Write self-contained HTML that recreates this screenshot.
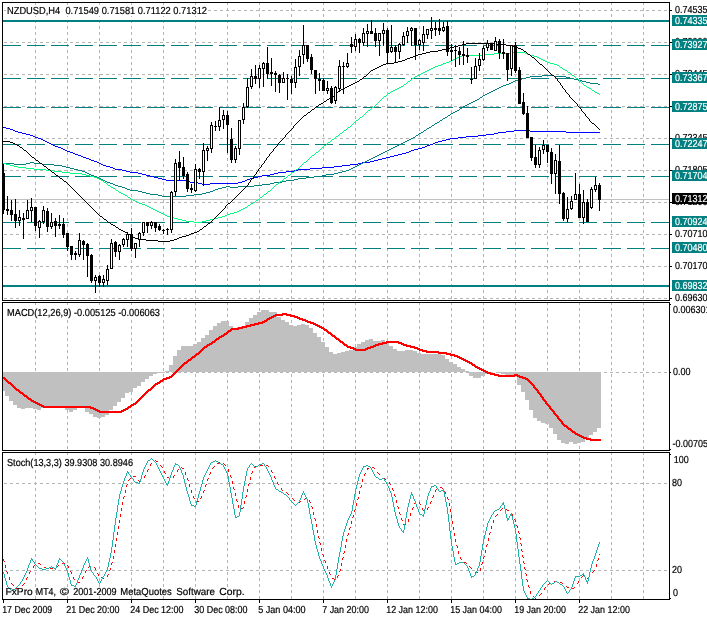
<!DOCTYPE html>
<html><head><meta charset="utf-8"><title>NZDUSD,H4</title>
<style>html,body{margin:0;padding:0;background:#fff;width:707px;height:617px;overflow:hidden}</style></head>
<body>
<svg width="707" height="617" viewBox="0 0 707 617" style="display:block;position:absolute;left:0;top:0" font-family="'Liberation Sans', sans-serif" font-size="10.2px" text-rendering="geometricPrecision">
<rect x="0" y="0" width="707" height="617" fill="#fff"/>
<g shape-rendering="crispEdges">
<line x1="35.5" y1="2" x2="35.5" y2="300" stroke="#b4b4b4" stroke-width="1" stroke-dasharray="3 3"/>
<line x1="35.5" y1="302" x2="35.5" y2="450" stroke="#b4b4b4" stroke-width="1" stroke-dasharray="3 3"/>
<line x1="35.5" y1="452" x2="35.5" y2="599" stroke="#b4b4b4" stroke-width="1" stroke-dasharray="3 3"/>
<line x1="67.5" y1="2" x2="67.5" y2="300" stroke="#b4b4b4" stroke-width="1" stroke-dasharray="3 3"/>
<line x1="67.5" y1="302" x2="67.5" y2="450" stroke="#b4b4b4" stroke-width="1" stroke-dasharray="3 3"/>
<line x1="67.5" y1="452" x2="67.5" y2="599" stroke="#b4b4b4" stroke-width="1" stroke-dasharray="3 3"/>
<line x1="99.5" y1="2" x2="99.5" y2="300" stroke="#b4b4b4" stroke-width="1" stroke-dasharray="3 3"/>
<line x1="99.5" y1="302" x2="99.5" y2="450" stroke="#b4b4b4" stroke-width="1" stroke-dasharray="3 3"/>
<line x1="99.5" y1="452" x2="99.5" y2="599" stroke="#b4b4b4" stroke-width="1" stroke-dasharray="3 3"/>
<line x1="131.5" y1="2" x2="131.5" y2="300" stroke="#b4b4b4" stroke-width="1" stroke-dasharray="3 3"/>
<line x1="131.5" y1="302" x2="131.5" y2="450" stroke="#b4b4b4" stroke-width="1" stroke-dasharray="3 3"/>
<line x1="131.5" y1="452" x2="131.5" y2="599" stroke="#b4b4b4" stroke-width="1" stroke-dasharray="3 3"/>
<line x1="163.5" y1="2" x2="163.5" y2="300" stroke="#b4b4b4" stroke-width="1" stroke-dasharray="3 3"/>
<line x1="163.5" y1="302" x2="163.5" y2="450" stroke="#b4b4b4" stroke-width="1" stroke-dasharray="3 3"/>
<line x1="163.5" y1="452" x2="163.5" y2="599" stroke="#b4b4b4" stroke-width="1" stroke-dasharray="3 3"/>
<line x1="195.5" y1="2" x2="195.5" y2="300" stroke="#b4b4b4" stroke-width="1" stroke-dasharray="3 3"/>
<line x1="195.5" y1="302" x2="195.5" y2="450" stroke="#b4b4b4" stroke-width="1" stroke-dasharray="3 3"/>
<line x1="195.5" y1="452" x2="195.5" y2="599" stroke="#b4b4b4" stroke-width="1" stroke-dasharray="3 3"/>
<line x1="227.5" y1="2" x2="227.5" y2="300" stroke="#b4b4b4" stroke-width="1" stroke-dasharray="3 3"/>
<line x1="227.5" y1="302" x2="227.5" y2="450" stroke="#b4b4b4" stroke-width="1" stroke-dasharray="3 3"/>
<line x1="227.5" y1="452" x2="227.5" y2="599" stroke="#b4b4b4" stroke-width="1" stroke-dasharray="3 3"/>
<line x1="259.5" y1="2" x2="259.5" y2="300" stroke="#b4b4b4" stroke-width="1" stroke-dasharray="3 3"/>
<line x1="259.5" y1="302" x2="259.5" y2="450" stroke="#b4b4b4" stroke-width="1" stroke-dasharray="3 3"/>
<line x1="259.5" y1="452" x2="259.5" y2="599" stroke="#b4b4b4" stroke-width="1" stroke-dasharray="3 3"/>
<line x1="291.5" y1="2" x2="291.5" y2="300" stroke="#b4b4b4" stroke-width="1" stroke-dasharray="3 3"/>
<line x1="291.5" y1="302" x2="291.5" y2="450" stroke="#b4b4b4" stroke-width="1" stroke-dasharray="3 3"/>
<line x1="291.5" y1="452" x2="291.5" y2="599" stroke="#b4b4b4" stroke-width="1" stroke-dasharray="3 3"/>
<line x1="323.5" y1="2" x2="323.5" y2="300" stroke="#b4b4b4" stroke-width="1" stroke-dasharray="3 3"/>
<line x1="323.5" y1="302" x2="323.5" y2="450" stroke="#b4b4b4" stroke-width="1" stroke-dasharray="3 3"/>
<line x1="323.5" y1="452" x2="323.5" y2="599" stroke="#b4b4b4" stroke-width="1" stroke-dasharray="3 3"/>
<line x1="355.5" y1="2" x2="355.5" y2="300" stroke="#b4b4b4" stroke-width="1" stroke-dasharray="3 3"/>
<line x1="355.5" y1="302" x2="355.5" y2="450" stroke="#b4b4b4" stroke-width="1" stroke-dasharray="3 3"/>
<line x1="355.5" y1="452" x2="355.5" y2="599" stroke="#b4b4b4" stroke-width="1" stroke-dasharray="3 3"/>
<line x1="387.5" y1="2" x2="387.5" y2="300" stroke="#b4b4b4" stroke-width="1" stroke-dasharray="3 3"/>
<line x1="387.5" y1="302" x2="387.5" y2="450" stroke="#b4b4b4" stroke-width="1" stroke-dasharray="3 3"/>
<line x1="387.5" y1="452" x2="387.5" y2="599" stroke="#b4b4b4" stroke-width="1" stroke-dasharray="3 3"/>
<line x1="419.5" y1="2" x2="419.5" y2="300" stroke="#b4b4b4" stroke-width="1" stroke-dasharray="3 3"/>
<line x1="419.5" y1="302" x2="419.5" y2="450" stroke="#b4b4b4" stroke-width="1" stroke-dasharray="3 3"/>
<line x1="419.5" y1="452" x2="419.5" y2="599" stroke="#b4b4b4" stroke-width="1" stroke-dasharray="3 3"/>
<line x1="451.5" y1="2" x2="451.5" y2="300" stroke="#b4b4b4" stroke-width="1" stroke-dasharray="3 3"/>
<line x1="451.5" y1="302" x2="451.5" y2="450" stroke="#b4b4b4" stroke-width="1" stroke-dasharray="3 3"/>
<line x1="451.5" y1="452" x2="451.5" y2="599" stroke="#b4b4b4" stroke-width="1" stroke-dasharray="3 3"/>
<line x1="483.5" y1="2" x2="483.5" y2="300" stroke="#b4b4b4" stroke-width="1" stroke-dasharray="3 3"/>
<line x1="483.5" y1="302" x2="483.5" y2="450" stroke="#b4b4b4" stroke-width="1" stroke-dasharray="3 3"/>
<line x1="483.5" y1="452" x2="483.5" y2="599" stroke="#b4b4b4" stroke-width="1" stroke-dasharray="3 3"/>
<line x1="515.5" y1="2" x2="515.5" y2="300" stroke="#b4b4b4" stroke-width="1" stroke-dasharray="3 3"/>
<line x1="515.5" y1="302" x2="515.5" y2="450" stroke="#b4b4b4" stroke-width="1" stroke-dasharray="3 3"/>
<line x1="515.5" y1="452" x2="515.5" y2="599" stroke="#b4b4b4" stroke-width="1" stroke-dasharray="3 3"/>
<line x1="547.5" y1="2" x2="547.5" y2="300" stroke="#b4b4b4" stroke-width="1" stroke-dasharray="3 3"/>
<line x1="547.5" y1="302" x2="547.5" y2="450" stroke="#b4b4b4" stroke-width="1" stroke-dasharray="3 3"/>
<line x1="547.5" y1="452" x2="547.5" y2="599" stroke="#b4b4b4" stroke-width="1" stroke-dasharray="3 3"/>
<line x1="579.5" y1="2" x2="579.5" y2="300" stroke="#b4b4b4" stroke-width="1" stroke-dasharray="3 3"/>
<line x1="579.5" y1="302" x2="579.5" y2="450" stroke="#b4b4b4" stroke-width="1" stroke-dasharray="3 3"/>
<line x1="579.5" y1="452" x2="579.5" y2="599" stroke="#b4b4b4" stroke-width="1" stroke-dasharray="3 3"/>
<line x1="611.5" y1="2" x2="611.5" y2="300" stroke="#b4b4b4" stroke-width="1" stroke-dasharray="3 3"/>
<line x1="611.5" y1="302" x2="611.5" y2="450" stroke="#b4b4b4" stroke-width="1" stroke-dasharray="3 3"/>
<line x1="611.5" y1="452" x2="611.5" y2="599" stroke="#b4b4b4" stroke-width="1" stroke-dasharray="3 3"/>
<line x1="643.5" y1="2" x2="643.5" y2="300" stroke="#b4b4b4" stroke-width="1" stroke-dasharray="3 3"/>
<line x1="643.5" y1="302" x2="643.5" y2="450" stroke="#b4b4b4" stroke-width="1" stroke-dasharray="3 3"/>
<line x1="643.5" y1="452" x2="643.5" y2="599" stroke="#b4b4b4" stroke-width="1" stroke-dasharray="3 3"/>
<line x1="4" y1="10.5" x2="669" y2="10.5" stroke="#b4b4b4" stroke-width="1" stroke-dasharray="3 3"/>
<line x1="4" y1="42.5" x2="669" y2="42.5" stroke="#b4b4b4" stroke-width="1" stroke-dasharray="3 3"/>
<line x1="4" y1="74.5" x2="669" y2="74.5" stroke="#b4b4b4" stroke-width="1" stroke-dasharray="3 3"/>
<line x1="4" y1="106.5" x2="669" y2="106.5" stroke="#b4b4b4" stroke-width="1" stroke-dasharray="3 3"/>
<line x1="4" y1="138.5" x2="669" y2="138.5" stroke="#b4b4b4" stroke-width="1" stroke-dasharray="3 3"/>
<line x1="4" y1="170.5" x2="669" y2="170.5" stroke="#b4b4b4" stroke-width="1" stroke-dasharray="3 3"/>
<line x1="4" y1="202.5" x2="669" y2="202.5" stroke="#b4b4b4" stroke-width="1" stroke-dasharray="3 3"/>
<line x1="4" y1="234.5" x2="669" y2="234.5" stroke="#b4b4b4" stroke-width="1" stroke-dasharray="3 3"/>
<line x1="4" y1="266.5" x2="669" y2="266.5" stroke="#b4b4b4" stroke-width="1" stroke-dasharray="3 3"/>
<line x1="4" y1="298.5" x2="669" y2="298.5" stroke="#b4b4b4" stroke-width="1" stroke-dasharray="3 3"/>
<line x1="4" y1="372.5" x2="669" y2="372.5" stroke="#b4b4b4" stroke-width="1" stroke-dasharray="3 3"/>
<line x1="4" y1="483.5" x2="669" y2="483.5" stroke="#b4b4b4" stroke-width="1" stroke-dasharray="3 3"/>
<line x1="4" y1="570.5" x2="669" y2="570.5" stroke="#b4b4b4" stroke-width="1" stroke-dasharray="3 3"/>
<line x1="3" y1="45.5" x2="669" y2="45.5" stroke="#008080" stroke-width="1" stroke-dasharray="18 6"/>
<line x1="3" y1="78.5" x2="669" y2="78.5" stroke="#008080" stroke-width="1" stroke-dasharray="18 6"/>
<line x1="3" y1="107.5" x2="669" y2="107.5" stroke="#008080" stroke-width="1" stroke-dasharray="18 6"/>
<line x1="3" y1="144.5" x2="669" y2="144.5" stroke="#008080" stroke-width="1" stroke-dasharray="18 6"/>
<line x1="3" y1="176.5" x2="669" y2="176.5" stroke="#008080" stroke-width="1" stroke-dasharray="18 6"/>
<line x1="3" y1="222.5" x2="669" y2="222.5" stroke="#008080" stroke-width="1" stroke-dasharray="18 6"/>
<line x1="3" y1="248.5" x2="669" y2="248.5" stroke="#008080" stroke-width="1" stroke-dasharray="18 6"/>
<line x1="3" y1="21.0" x2="669" y2="21.0" stroke="#008080" stroke-width="2"/>
<line x1="3" y1="286.0" x2="669" y2="286.0" stroke="#008080" stroke-width="2"/>
<line x1="3" y1="199.5" x2="669" y2="199.5" stroke="#c0c0c0" stroke-width="1"/>
<path d="M3 127h3v1h-3zM6 128h4v1h-4zM10 129h3v1h-3zM13 130h2v1h-2zM514 130h16v1h-16zM15 131h3v1h-3zM506 131h8v1h-8zM530 131h36v1h-36zM18 132h4v1h-4zM498 132h8v1h-8zM566 132h34v1h-34zM22 133h4v1h-4zM494 133h4v1h-4zM26 134h4v1h-4zM486 134h8v1h-8zM30 135h3v1h-3zM478 135h8v1h-8zM33 136h2v1h-2zM466 136h12v1h-12zM35 137h3v1h-3zM458 137h8v1h-8zM38 138h3v1h-3zM450 138h8v1h-8zM41 139h2v1h-2zM446 139h4v1h-4zM43 140h2v1h-2zM442 140h4v1h-4zM45 141h2v1h-2zM438 141h4v1h-4zM47 142h2v1h-2zM435 142h3v1h-3zM49 143h2v1h-2zM433 143h2v1h-2zM51 144h2v1h-2zM430 144h3v1h-3zM53 145h2v1h-2zM427 145h3v1h-3zM55 146h3v1h-3zM425 146h2v1h-2zM58 147h3v1h-3zM422 147h3v1h-3zM61 148h2v1h-2zM418 148h4v1h-4zM63 149h2v1h-2zM414 149h4v1h-4zM65 150h2v1h-2zM411 150h3v1h-3zM67 151h3v1h-3zM409 151h2v1h-2zM70 152h3v1h-3zM406 152h3v1h-3zM73 153h2v1h-2zM402 153h4v1h-4zM75 154h3v1h-3zM398 154h4v1h-4zM78 155h3v1h-3zM394 155h4v1h-4zM81 156h2v1h-2zM390 156h4v1h-4zM83 157h3v1h-3zM386 157h4v1h-4zM86 158h3v1h-3zM382 158h4v1h-4zM89 159h2v1h-2zM378 159h4v1h-4zM91 160h3v1h-3zM374 160h4v1h-4zM94 161h3v1h-3zM370 161h4v1h-4zM97 162h2v1h-2zM362 162h8v1h-8zM99 163h2v1h-2zM358 163h4v1h-4zM101 164h2v1h-2zM350 164h8v1h-8zM103 165h3v1h-3zM342 165h8v1h-8zM106 166h4v1h-4zM334 166h8v1h-8zM110 167h3v1h-3zM322 167h12v1h-12zM113 168h2v1h-2zM310 168h12v1h-12zM115 169h7v1h-7zM298 169h12v1h-12zM122 170h4v1h-4zM294 170h4v1h-4zM126 171h4v1h-4zM286 171h8v1h-8zM130 172h8v1h-8zM278 172h8v1h-8zM138 173h4v1h-4zM274 173h4v1h-4zM142 174h4v1h-4zM270 174h4v1h-4zM146 175h4v1h-4zM262 175h8v1h-8zM150 176h4v1h-4zM258 176h4v1h-4zM154 177h4v1h-4zM254 177h4v1h-4zM158 178h4v1h-4zM250 178h4v1h-4zM162 179h4v1h-4zM247 179h3v1h-3zM166 180h20v1h-20zM245 180h2v1h-2zM186 181h4v1h-4zM242 181h3v1h-3zM190 182h8v1h-8zM238 182h4v1h-4zM198 183h4v1h-4zM210 183h28v1h-28zM202 184h8v1h-8z" fill="#0000ff"/>
<path d="M542 75h12v1h-12zM530 76h12v1h-12zM554 76h12v1h-12zM526 77h4v1h-4zM566 77h4v1h-4zM522 78h4v1h-4zM570 78h4v1h-4zM518 79h4v1h-4zM574 79h4v1h-4zM515 80h3v1h-3zM578 80h4v1h-4zM513 81h2v1h-2zM582 81h4v1h-4zM511 82h2v1h-2zM586 82h4v1h-4zM509 83h2v1h-2zM590 83h8v1h-8zM506 84h3v1h-3zM598 84h2v1h-2zM503 85h3v1h-3zM501 86h2v1h-2zM499 87h2v1h-2zM497 88h2v1h-2zM495 89h2v1h-2zM493 90h2v1h-2zM491 91h2v1h-2zM489 92h2v1h-2zM487 93h2v1h-2zM485 94h2v1h-2zM483 95h2v1h-2zM482 96h1v1h-1zM480 97h2v1h-2zM479 98h1v1h-1zM477 99h2v1h-2zM475 100h2v1h-2zM473 101h2v1h-2zM471 102h2v1h-2zM469 103h2v1h-2zM467 104h2v1h-2zM465 105h2v1h-2zM463 106h2v1h-2zM462 107h1v1h-1zM460 108h2v1h-2zM459 109h1v1h-1zM457 110h2v1h-2zM455 111h2v1h-2zM453 112h2v1h-2zM451 113h2v1h-2zM450 114h1v1h-1zM448 115h2v1h-2zM447 116h1v1h-1zM445 117h2v1h-2zM443 118h2v1h-2zM442 119h1v1h-1zM440 120h2v1h-2zM439 121h1v1h-1zM437 122h2v1h-2zM435 123h2v1h-2zM434 124h1v1h-1zM432 125h2v1h-2zM431 126h1v1h-1zM429 127h2v1h-2zM427 128h2v1h-2zM426 129h1v1h-1zM424 130h2v1h-2zM423 131h1v1h-1zM421 132h2v1h-2zM419 133h2v1h-2zM418 134h1v1h-1zM416 135h2v1h-2zM415 136h1v1h-1zM413 137h2v1h-2zM411 138h2v1h-2zM409 139h2v1h-2zM407 140h2v1h-2zM405 141h2v1h-2zM403 142h2v1h-2zM401 143h2v1h-2zM399 144h2v1h-2zM397 145h2v1h-2zM395 146h2v1h-2zM393 147h2v1h-2zM391 148h2v1h-2zM389 149h2v1h-2zM387 150h2v1h-2zM385 151h2v1h-2zM383 152h2v1h-2zM381 153h2v1h-2zM379 154h2v1h-2zM377 155h2v1h-2zM375 156h2v1h-2zM373 157h2v1h-2zM371 158h2v1h-2zM369 159h2v1h-2zM367 160h2v1h-2zM365 161h2v1h-2zM30 162h4v1h-4zM363 162h2v1h-2zM3 163h11v1h-11zM26 163h4v1h-4zM34 163h8v1h-8zM361 163h2v1h-2zM14 164h12v1h-12zM42 164h12v1h-12zM359 164h2v1h-2zM54 165h8v1h-8zM357 165h2v1h-2zM62 166h4v1h-4zM355 166h2v1h-2zM66 167h4v1h-4zM353 167h2v1h-2zM70 168h4v1h-4zM351 168h2v1h-2zM74 169h4v1h-4zM349 169h2v1h-2zM78 170h4v1h-4zM346 170h3v1h-3zM82 171h3v1h-3zM342 171h4v1h-4zM85 172h2v1h-2zM338 172h4v1h-4zM87 173h2v1h-2zM334 173h4v1h-4zM89 174h2v1h-2zM326 174h8v1h-8zM91 175h3v1h-3zM322 175h4v1h-4zM94 176h3v1h-3zM314 176h8v1h-8zM97 177h2v1h-2zM306 177h8v1h-8zM99 178h2v1h-2zM298 178h8v1h-8zM101 179h2v1h-2zM294 179h4v1h-4zM103 180h2v1h-2zM286 180h8v1h-8zM105 181h2v1h-2zM282 181h4v1h-4zM107 182h3v1h-3zM274 182h8v1h-8zM110 183h3v1h-3zM270 183h4v1h-4zM113 184h2v1h-2zM262 184h8v1h-8zM115 185h3v1h-3zM254 185h8v1h-8zM118 186h4v1h-4zM226 186h4v1h-4zM238 186h16v1h-16zM122 187h3v1h-3zM222 187h4v1h-4zM230 187h8v1h-8zM125 188h2v1h-2zM218 188h4v1h-4zM127 189h3v1h-3zM215 189h3v1h-3zM130 190h8v1h-8zM213 190h2v1h-2zM138 191h4v1h-4zM210 191h3v1h-3zM142 192h4v1h-4zM206 192h4v1h-4zM146 193h4v1h-4zM202 193h4v1h-4zM150 194h8v1h-8zM194 194h8v1h-8zM158 195h4v1h-4zM186 195h8v1h-8zM162 196h24v1h-24z" fill="#008080"/>
<path d="M510 52h15v1h-15zM494 53h16v1h-16zM525 53h2v1h-2zM482 54h12v1h-12zM527 54h3v1h-3zM462 55h20v1h-20zM530 55h4v1h-4zM459 56h3v1h-3zM534 56h3v1h-3zM457 57h2v1h-2zM537 57h2v1h-2zM455 58h2v1h-2zM539 58h2v1h-2zM453 59h2v1h-2zM541 59h2v1h-2zM451 60h2v1h-2zM543 60h2v1h-2zM449 61h2v1h-2zM545 61h2v1h-2zM446 62h3v1h-3zM547 62h3v1h-3zM443 63h3v1h-3zM550 63h4v1h-4zM441 64h2v1h-2zM554 64h3v1h-3zM438 65h3v1h-3zM557 65h2v1h-2zM435 66h3v1h-3zM559 66h1v1h-1zM433 67h2v1h-2zM560 67h2v1h-2zM431 68h2v1h-2zM562 68h1v1h-1zM429 69h2v1h-2zM563 69h2v1h-2zM427 70h2v1h-2zM565 70h2v1h-2zM425 71h2v1h-2zM567 71h1v1h-1zM423 72h2v1h-2zM568 72h2v1h-2zM421 73h2v1h-2zM570 73h1v1h-1zM419 74h2v1h-2zM571 74h1v1h-1zM417 75h2v1h-2zM572 75h2v1h-2zM415 76h2v1h-2zM574 76h1v1h-1zM414 77h1v1h-1zM575 77h1v1h-1zM412 78h2v1h-2zM576 78h2v1h-2zM411 79h1v1h-1zM578 79h1v1h-1zM410 80h1v1h-1zM579 80h1v1h-1zM408 81h2v1h-2zM580 81h1v1h-1zM407 82h1v1h-1zM581 82h1v1h-1zM406 83h1v1h-1zM582 83h1v1h-1zM404 84h2v1h-2zM583 84h1v1h-1zM403 85h1v1h-1zM584 85h2v1h-2zM401 86h2v1h-2zM586 86h1v1h-1zM399 87h2v1h-2zM587 87h2v1h-2zM397 88h2v1h-2zM589 88h2v1h-2zM395 89h2v1h-2zM591 89h1v1h-1zM393 90h2v1h-2zM592 90h2v1h-2zM391 91h2v1h-2zM594 91h1v1h-1zM390 92h1v1h-1zM595 92h2v1h-2zM388 93h2v1h-2zM597 93h2v1h-2zM387 94h1v1h-1zM599 94h1v1h-1zM386 95h1v1h-1zM384 96h2v1h-2zM383 97h1v1h-1zM382 98h1v1h-1zM381 99h1v1h-1zM380 100h1v1h-1zM379 101h1v1h-1zM378 102h1v1h-1zM377 103h1v1h-1zM376 104h1v1h-1zM375 105h1v1h-1zM374 106h1v1h-1zM372 107h2v1h-2zM371 108h1v1h-1zM370 109h1v1h-1zM368 110h2v1h-2zM367 111h1v1h-1zM366 112h1v1h-1zM365 113h1v1h-1zM364 114h1v1h-1zM363 115h1v1h-1zM362 116h1v1h-1zM360 117h2v1h-2zM359 118h1v1h-1zM358 119h1v1h-1zM356 120h2v1h-2zM355 121h1v1h-1zM354 122h1v1h-1zM353 123h1v1h-1zM352 124h1v1h-1zM351 125h1v1h-1zM350 126h1v1h-1zM348 127h2v1h-2zM347 128h1v1h-1zM346 129h1v1h-1zM344 130h2v1h-2zM343 131h1v1h-1zM342 132h1v1h-1zM340 133h2v1h-2zM339 134h1v1h-1zM338 135h1v1h-1zM336 136h2v1h-2zM335 137h1v1h-1zM334 138h1v1h-1zM332 139h2v1h-2zM331 140h1v1h-1zM330 141h1v1h-1zM328 142h2v1h-2zM327 143h1v1h-1zM326 144h1v1h-1zM324 145h2v1h-2zM323 146h1v1h-1zM322 147h1v1h-1zM321 148h1v1h-1zM320 149h1v1h-1zM319 150h1v1h-1zM318 151h1v1h-1zM316 152h2v1h-2zM315 153h1v1h-1zM314 154h1v1h-1zM312 155h2v1h-2zM311 156h1v1h-1zM310 157h1v1h-1zM309 158h1v1h-1zM308 159h1v1h-1zM307 160h1v1h-1zM306 161h1v1h-1zM304 162h2v1h-2zM3 163h3v1h-3zM303 163h1v1h-1zM6 164h4v1h-4zM302 164h1v1h-1zM10 165h4v1h-4zM301 165h1v1h-1zM14 166h4v1h-4zM300 166h1v1h-1zM18 167h8v1h-8zM299 167h1v1h-1zM26 168h8v1h-8zM298 168h1v1h-1zM34 169h12v1h-12zM296 169h2v1h-2zM46 170h8v1h-8zM295 170h1v1h-1zM54 171h8v1h-8zM294 171h1v1h-1zM62 172h8v1h-8zM292 172h2v1h-2zM70 173h12v1h-12zM291 173h1v1h-1zM82 174h4v1h-4zM290 174h1v1h-1zM86 175h4v1h-4zM288 175h2v1h-2zM90 176h4v1h-4zM287 176h1v1h-1zM94 177h3v1h-3zM286 177h1v1h-1zM97 178h2v1h-2zM284 178h2v1h-2zM99 179h2v1h-2zM283 179h1v1h-1zM101 180h2v1h-2zM282 180h1v1h-1zM103 181h1v1h-1zM280 181h2v1h-2zM104 182h2v1h-2zM279 182h1v1h-1zM106 183h1v1h-1zM278 183h1v1h-1zM107 184h1v1h-1zM276 184h2v1h-2zM108 185h2v1h-2zM275 185h1v1h-1zM110 186h1v1h-1zM274 186h1v1h-1zM111 187h2v1h-2zM273 187h1v1h-1zM113 188h2v1h-2zM272 188h1v1h-1zM115 189h1v1h-1zM271 189h1v1h-1zM116 190h2v1h-2zM270 190h1v1h-1zM118 191h1v1h-1zM268 191h2v1h-2zM119 192h2v1h-2zM267 192h1v1h-1zM121 193h2v1h-2zM266 193h1v1h-1zM123 194h2v1h-2zM264 194h2v1h-2zM125 195h2v1h-2zM263 195h1v1h-1zM127 196h1v1h-1zM262 196h1v1h-1zM128 197h2v1h-2zM260 197h2v1h-2zM130 198h1v1h-1zM259 198h1v1h-1zM131 199h2v1h-2zM258 199h1v1h-1zM133 200h2v1h-2zM256 200h2v1h-2zM135 201h2v1h-2zM255 201h1v1h-1zM137 202h2v1h-2zM253 202h2v1h-2zM139 203h3v1h-3zM251 203h2v1h-2zM142 204h3v1h-3zM250 204h1v1h-1zM145 205h2v1h-2zM248 205h2v1h-2zM147 206h2v1h-2zM247 206h1v1h-1zM149 207h2v1h-2zM245 207h2v1h-2zM151 208h2v1h-2zM243 208h2v1h-2zM153 209h2v1h-2zM241 209h2v1h-2zM155 210h2v1h-2zM239 210h2v1h-2zM157 211h2v1h-2zM237 211h2v1h-2zM159 212h2v1h-2zM234 212h3v1h-3zM161 213h2v1h-2zM230 213h4v1h-4zM163 214h2v1h-2zM227 214h3v1h-3zM165 215h2v1h-2zM225 215h2v1h-2zM167 216h3v1h-3zM222 216h3v1h-3zM170 217h4v1h-4zM218 217h4v1h-4zM174 218h4v1h-4zM214 218h4v1h-4zM178 219h4v1h-4zM210 219h4v1h-4zM182 220h4v1h-4zM206 220h4v1h-4zM186 221h8v1h-8zM202 221h4v1h-4zM194 222h8v1h-8z" fill="#00ff7f"/>
<path d="M466 43h28v1h-28zM462 44h4v1h-4zM494 44h12v1h-12zM458 45h4v1h-4zM506 45h4v1h-4zM454 46h4v1h-4zM510 46h4v1h-4zM450 47h4v1h-4zM514 47h4v1h-4zM446 48h4v1h-4zM518 48h3v1h-3zM442 49h4v1h-4zM521 49h2v1h-2zM438 50h4v1h-4zM523 50h1v1h-1zM430 51h8v1h-8zM524 51h2v1h-2zM426 52h4v1h-4zM526 52h1v1h-1zM422 53h4v1h-4zM527 53h1v1h-1zM418 54h4v1h-4zM528 54h2v1h-2zM415 55h3v1h-3zM530 55h1v1h-1zM413 56h2v1h-2zM531 56h1v1h-1zM410 57h3v1h-3zM532 57h2v1h-2zM407 58h3v1h-3zM534 58h1v1h-1zM405 59h2v1h-2zM535 59h1v1h-1zM402 60h3v1h-3zM536 60h1v1h-1zM398 61h4v1h-4zM537 61h1v1h-1zM394 62h4v1h-4zM538 62h1v1h-1zM386 63h8v1h-8zM539 63h1v1h-1zM383 64h3v1h-3zM540 64h2v1h-2zM381 65h2v1h-2zM542 65h1v1h-1zM379 66h2v1h-2zM543 66h1v1h-1zM377 67h2v1h-2zM544 67h1v1h-1zM375 68h2v1h-2zM545 68h1v1h-1zM373 69h2v1h-2zM546 69h1v1h-1zM371 70h2v1h-2zM547 70h1v1h-1zM370 71h1v1h-1zM548 71h1v1h-1zM369 72h1v1h-1zM549 72h1v1h-1zM368 73h1v1h-1zM550 73h1v1h-1zM367 74h1v1h-1zM551 74h1v1h-1zM366 75h1v1h-1zM552 75h2v1h-2zM364 76h2v1h-2zM554 76h1v1h-1zM363 77h1v1h-1zM555 77h1v1h-1zM362 78h1v1h-1zM556 78h1v1h-1zM360 79h2v1h-2zM557 79h1v2h-1zM359 80h1v1h-1zM357 81h2v1h-2zM558 81h1v1h-1zM355 82h2v1h-2zM559 82h1v1h-1zM353 83h2v1h-2zM560 83h1v2h-1zM351 84h2v1h-2zM349 85h2v1h-2zM561 85h1v1h-1zM347 86h2v1h-2zM562 86h1v2h-1zM345 87h2v1h-2zM343 88h2v1h-2zM563 88h1v1h-1zM341 89h2v1h-2zM564 89h1v1h-1zM339 90h2v1h-2zM565 90h1v2h-1zM338 91h1v1h-1zM337 92h1v1h-1zM566 92h1v1h-1zM336 93h1v1h-1zM567 93h1v1h-1zM335 94h1v1h-1zM568 94h1v1h-1zM334 95h1v1h-1zM569 95h1v2h-1zM332 96h2v1h-2zM331 97h1v1h-1zM570 97h1v1h-1zM329 98h2v1h-2zM571 98h1v1h-1zM327 99h2v1h-2zM572 99h1v1h-1zM326 100h1v1h-1zM573 100h1v1h-1zM324 101h2v1h-2zM574 101h1v1h-1zM323 102h1v1h-1zM575 102h1v1h-1zM321 103h2v1h-2zM576 103h1v1h-1zM319 104h2v1h-2zM577 104h1v2h-1zM318 105h1v1h-1zM316 106h2v1h-2zM578 106h1v1h-1zM315 107h1v1h-1zM579 107h1v1h-1zM314 108h1v1h-1zM580 108h1v1h-1zM312 109h2v1h-2zM581 109h1v2h-1zM311 110h1v1h-1zM310 111h1v1h-1zM582 111h1v1h-1zM308 112h2v1h-2zM583 112h1v1h-1zM307 113h1v1h-1zM584 113h1v1h-1zM306 114h1v1h-1zM585 114h1v2h-1zM304 115h2v1h-2zM303 116h1v1h-1zM586 116h1v1h-1zM302 117h1v1h-1zM587 117h1v1h-1zM301 118h1v1h-1zM588 118h1v1h-1zM300 119h1v1h-1zM589 119h1v2h-1zM299 120h1v1h-1zM298 121h1v1h-1zM590 121h1v1h-1zM297 122h1v1h-1zM591 122h1v1h-1zM296 123h1v1h-1zM592 123h2v1h-2zM295 124h1v1h-1zM594 124h1v1h-1zM294 125h1v1h-1zM595 125h1v1h-1zM596 126h1v1h-1zM293 126h1v2h-1zM597 127h1v1h-1zM292 128h1v1h-1zM598 128h1v1h-1zM291 129h1v1h-1zM599 129h1v1h-1zM290 130h1v1h-1zM289 131h1v1h-1zM288 132h1v1h-1zM287 133h1v1h-1zM286 134h1v1h-1zM285 135h1v2h-1zM284 137h1v1h-1zM283 138h1v1h-1zM282 139h1v1h-1zM281 140h1v1h-1zM3 141h7v1h-7zM280 141h1v1h-1zM10 142h3v1h-3zM279 142h1v1h-1zM13 143h2v1h-2zM278 143h1v1h-1zM15 144h2v1h-2zM277 144h1v2h-1zM17 145h2v1h-2zM19 146h1v1h-1zM276 146h1v1h-1zM20 147h2v1h-2zM275 147h1v1h-1zM22 148h1v1h-1zM274 148h1v1h-1zM23 149h1v1h-1zM273 149h1v2h-1zM24 150h2v1h-2zM26 151h1v1h-1zM272 151h1v1h-1zM27 152h1v1h-1zM271 152h1v1h-1zM28 153h1v1h-1zM270 153h1v1h-1zM29 154h1v1h-1zM269 154h1v2h-1zM30 155h1v1h-1zM31 156h1v1h-1zM268 156h1v1h-1zM32 157h2v1h-2zM267 157h1v1h-1zM34 158h1v1h-1zM266 158h1v2h-1zM35 159h1v1h-1zM36 160h2v1h-2zM265 160h1v1h-1zM38 161h1v1h-1zM264 161h1v2h-1zM39 162h1v1h-1zM40 163h2v1h-2zM263 163h1v1h-1zM42 164h1v1h-1zM262 164h1v1h-1zM43 165h1v1h-1zM261 165h1v2h-1zM44 166h2v1h-2zM46 167h1v1h-1zM260 167h1v1h-1zM47 168h1v1h-1zM259 168h1v1h-1zM48 169h2v1h-2zM258 169h1v2h-1zM50 170h1v1h-1zM51 171h1v1h-1zM257 171h1v1h-1zM52 172h2v1h-2zM256 172h1v2h-1zM54 173h1v1h-1zM55 174h1v1h-1zM255 174h1v1h-1zM56 175h2v1h-2zM254 175h1v1h-1zM58 176h1v1h-1zM253 176h1v2h-1zM59 177h1v1h-1zM60 178h2v1h-2zM252 178h1v1h-1zM62 179h1v1h-1zM251 179h1v1h-1zM63 180h1v1h-1zM250 180h1v2h-1zM64 181h2v1h-2zM66 182h1v1h-1zM249 182h1v1h-1zM67 183h1v1h-1zM248 183h1v2h-1zM68 184h1v1h-1zM69 185h1v1h-1zM247 185h1v1h-1zM70 186h1v1h-1zM246 186h1v1h-1zM71 187h1v1h-1zM245 187h1v1h-1zM72 188h1v1h-1zM244 188h1v1h-1zM73 189h1v1h-1zM243 189h1v1h-1zM74 190h1v1h-1zM242 190h1v1h-1zM75 191h1v1h-1zM241 191h1v1h-1zM76 192h1v1h-1zM240 192h1v1h-1zM77 193h1v1h-1zM239 193h1v1h-1zM78 194h1v1h-1zM238 194h1v1h-1zM79 195h1v1h-1zM237 195h1v1h-1zM80 196h1v1h-1zM236 196h1v1h-1zM81 197h1v1h-1zM235 197h1v1h-1zM82 198h1v1h-1zM234 198h1v1h-1zM83 199h1v1h-1zM233 199h1v1h-1zM84 200h1v1h-1zM232 200h1v1h-1zM85 201h1v1h-1zM231 201h1v1h-1zM86 202h1v1h-1zM230 202h1v1h-1zM87 203h1v1h-1zM228 203h2v1h-2zM88 204h1v1h-1zM227 204h1v1h-1zM89 205h1v1h-1zM226 205h1v1h-1zM90 206h1v1h-1zM225 206h1v2h-1zM91 207h1v1h-1zM92 208h1v1h-1zM224 208h1v1h-1zM93 209h1v1h-1zM223 209h1v1h-1zM94 210h1v1h-1zM222 210h1v1h-1zM95 211h1v1h-1zM221 211h1v1h-1zM96 212h1v1h-1zM220 212h1v1h-1zM97 213h1v1h-1zM219 213h1v1h-1zM98 214h1v1h-1zM218 214h1v1h-1zM99 215h1v1h-1zM217 215h1v1h-1zM100 216h2v1h-2zM216 216h1v1h-1zM102 217h1v1h-1zM215 217h1v1h-1zM103 218h1v1h-1zM214 218h1v1h-1zM104 219h2v1h-2zM213 219h1v1h-1zM106 220h1v1h-1zM212 220h1v1h-1zM107 221h1v1h-1zM211 221h1v1h-1zM108 222h2v1h-2zM210 222h1v1h-1zM110 223h1v1h-1zM208 223h2v1h-2zM111 224h2v1h-2zM207 224h1v1h-1zM113 225h2v1h-2zM206 225h1v1h-1zM115 226h1v1h-1zM204 226h2v1h-2zM116 227h2v1h-2zM203 227h1v1h-1zM118 228h1v1h-1zM202 228h1v1h-1zM119 229h2v1h-2zM200 229h2v1h-2zM121 230h2v1h-2zM199 230h1v1h-1zM123 231h2v1h-2zM197 231h2v1h-2zM125 232h2v1h-2zM194 232h3v1h-3zM127 233h1v1h-1zM191 233h3v1h-3zM128 234h2v1h-2zM189 234h2v1h-2zM130 235h1v1h-1zM186 235h3v1h-3zM131 236h2v1h-2zM182 236h4v1h-4zM133 237h2v1h-2zM179 237h3v1h-3zM135 238h3v1h-3zM177 238h2v1h-2zM138 239h8v1h-8zM174 239h3v1h-3zM146 240h12v1h-12zM170 240h4v1h-4zM158 241h12v1h-12z" fill="#000"/>
<path d="M3 164h1v50h-1zM2 173h3v37h-3zM7 196h1v19h-1zM6 209h3v2h-3zM11 200h1v21h-1zM10 210h3v5h-3zM15 199h1v29h-1zM14 214h3v7h-3zM19 210h1v16h-1zM18 217h3v4h-3zM23 213h1v26h-1zM22 218h3v2h-3zM27 200h1v19h-1zM26 210h3v9h-3zM31 198h1v24h-1zM30 207h3v4h-3zM35 207h1v24h-1zM34 207h3v19h-3zM39 220h1v18h-1zM38 221h3v7h-3zM43 206h1v18h-1zM42 210h3v12h-3zM47 208h1v24h-1zM46 211h3v16h-3zM51 213h1v16h-1zM50 222h3v5h-3zM55 218h1v19h-1zM54 221h3v5h-3zM59 215h1v14h-1zM58 224h3v2h-3zM63 218h1v20h-1zM62 224h3v11h-3zM67 233h1v18h-1zM66 233h3v14h-3zM71 246h1v14h-1zM70 246h3v9h-3zM75 251h1v9h-1zM74 253h3v2h-3zM79 233h1v24h-1zM78 240h3v15h-3zM83 240h1v20h-1zM82 241h3v4h-3zM87 243h1v34h-1zM86 244h3v12h-3zM91 254h1v29h-1zM90 255h3v26h-3zM95 275h1v18h-1zM94 277h3v4h-3zM99 275h1v12h-1zM98 276h3v7h-3zM103 275h1v12h-1zM102 279h3v4h-3zM107 265h1v20h-1zM106 269h3v12h-3zM111 239h1v30h-1zM110 243h3v26h-3zM115 241h1v16h-1zM114 242h3v10h-3zM119 244h1v16h-1zM118 245h3v7h-3zM123 238h1v9h-1zM122 239h3v6h-3zM127 232h1v15h-1zM126 234h3v6h-3zM131 228h1v23h-1zM130 234h3v15h-3zM135 243h1v15h-1zM134 243h3v6h-3zM139 232h1v15h-1zM138 233h3v7h-3zM143 222h1v14h-1zM142 222h3v11h-3zM147 222h1v11h-1zM146 222h3v4h-3zM151 221h1v8h-1zM150 222h3v4h-3zM155 222h1v10h-1zM154 222h3v6h-3zM159 224h1v7h-1zM158 226h3v4h-3zM163 229h1v5h-1zM162 230h3v1h-3zM167 228h1v7h-1zM166 229h3v1h-3zM171 191h1v42h-1zM170 192h3v38h-3zM175 159h1v37h-1zM174 163h3v29h-3zM179 151h1v29h-1zM178 162h3v6h-3zM183 157h1v22h-1zM182 167h3v9h-3zM187 172h1v20h-1zM186 174h3v15h-3zM191 184h1v9h-1zM190 188h3v2h-3zM195 164h1v28h-1zM194 169h3v22h-3zM199 168h1v11h-1zM198 169h3v3h-3zM203 143h1v43h-1zM202 150h3v22h-3zM207 146h1v15h-1zM206 148h3v3h-3zM211 122h1v31h-1zM210 125h3v24h-3zM215 121h1v10h-1zM214 126h3v1h-3zM219 107h1v24h-1zM218 120h3v7h-3zM223 110h1v19h-1zM222 115h3v5h-3zM227 111h1v42h-1zM226 115h3v10h-3zM231 128h1v35h-1zM230 139h3v21h-3zM235 146h1v17h-1zM234 148h3v12h-3zM239 120h1v35h-1zM238 120h3v29h-3zM243 103h1v21h-1zM242 107h3v13h-3zM247 78h1v30h-1zM246 87h3v20h-3zM251 69h1v20h-1zM250 76h3v11h-3zM255 65h1v19h-1zM254 76h3v3h-3zM259 65h1v23h-1zM258 68h3v11h-3zM263 62h1v25h-1zM262 63h3v6h-3zM267 47h1v32h-1zM266 63h3v11h-3zM271 58h1v28h-1zM270 72h3v2h-3zM275 71h1v21h-1zM274 73h3v2h-3zM279 74h1v19h-1zM278 75h3v8h-3zM283 72h1v11h-1zM282 78h3v5h-3zM287 74h1v26h-1zM286 78h3v1h-3zM291 76h1v18h-1zM290 79h3v4h-3zM295 59h1v29h-1zM294 67h3v16h-3zM299 50h1v26h-1zM298 56h3v11h-3zM303 25h1v39h-1zM302 45h3v10h-3zM307 45h1v17h-1zM306 45h3v14h-3zM311 54h1v20h-1zM310 57h3v13h-3zM315 70h1v24h-1zM314 70h3v9h-3zM319 73h1v18h-1zM318 79h3v2h-3zM323 78h1v13h-1zM322 80h3v11h-3zM327 81h1v13h-1zM326 88h3v3h-3zM331 86h1v18h-1zM330 88h3v15h-3zM335 86h1v18h-1zM334 87h3v14h-3zM339 60h1v32h-1zM338 66h3v23h-3zM343 62h1v32h-1zM342 66h3v1h-3zM347 53h1v15h-1zM346 63h3v4h-3zM351 37h1v16h-1zM350 44h3v3h-3zM355 34h1v17h-1zM354 39h3v8h-3zM359 38h1v15h-1zM358 39h3v4h-3zM363 28h1v18h-1zM362 33h3v10h-3zM367 24h1v23h-1zM366 31h3v3h-3zM371 20h1v14h-1zM370 31h3v3h-3zM375 28h1v19h-1zM374 33h3v8h-3zM379 33h1v23h-1zM378 33h3v8h-3zM383 23h1v23h-1zM382 30h3v4h-3zM387 28h1v35h-1zM386 30h3v23h-3zM391 25h1v28h-1zM390 47h3v5h-3zM395 45h1v17h-1zM394 47h3v5h-3zM399 43h1v16h-1zM398 44h3v8h-3zM403 32h1v14h-1zM402 36h3v9h-3zM407 27h1v16h-1zM406 31h3v5h-3zM411 27h1v19h-1zM410 28h3v3h-3zM415 28h1v32h-1zM414 28h3v17h-3zM419 39h1v11h-1zM418 40h3v5h-3zM423 26h1v25h-1zM422 34h3v9h-3zM427 29h1v10h-1zM426 29h3v6h-3zM431 17h1v22h-1zM430 28h3v3h-3zM435 22h1v14h-1zM434 28h3v2h-3zM439 19h1v16h-1zM438 28h3v3h-3zM443 22h1v10h-1zM442 27h3v4h-3zM447 21h1v35h-1zM446 26h3v26h-3zM451 44h1v17h-1zM450 50h3v2h-3zM455 45h1v22h-1zM454 50h3v1h-3zM459 47h1v18h-1zM458 51h3v4h-3zM463 41h1v24h-1zM462 54h3v2h-3zM467 48h1v15h-1zM466 55h3v2h-3zM471 67h1v17h-1zM470 79h3v1h-3zM475 58h1v21h-1zM474 66h3v13h-3zM479 53h1v18h-1zM478 59h3v7h-3zM483 46h1v15h-1zM482 48h3v12h-3zM487 40h1v11h-1zM486 43h3v5h-3zM491 44h1v6h-1zM490 44h3v6h-3zM495 37h1v14h-1zM494 41h3v10h-3zM499 39h1v20h-1zM498 41h3v12h-3zM503 39h1v20h-1zM502 52h3v2h-3zM507 53h1v28h-1zM506 53h3v17h-3zM511 45h1v31h-1zM510 45h3v24h-3zM515 42h1v31h-1zM514 45h3v26h-3zM519 67h1v37h-1zM518 70h3v34h-3zM523 93h1v22h-1zM522 102h3v12h-3zM527 106h1v32h-1zM526 113h3v25h-3zM531 137h1v24h-1zM530 137h3v21h-3zM535 145h1v23h-1zM534 157h3v8h-3zM539 147h1v21h-1zM538 150h3v15h-3zM543 140h1v14h-1zM542 145h3v5h-3zM547 145h1v18h-1zM546 145h3v7h-3zM551 148h1v36h-1zM550 152h3v22h-3zM555 154h1v40h-1zM554 160h3v14h-3zM559 145h1v59h-1zM558 161h3v33h-3zM563 192h1v29h-1zM562 193h3v26h-3zM567 197h1v25h-1zM566 209h3v10h-3zM571 196h1v14h-1zM570 201h3v8h-3zM575 173h1v27h-1zM574 194h3v6h-3zM579 184h1v34h-1zM578 194h3v24h-3zM583 190h1v34h-1zM582 202h3v16h-3zM587 199h1v23h-1zM586 202h3v20h-3zM591 187h1v22h-1zM590 189h3v19h-3zM595 177h1v15h-1zM594 185h3v5h-3zM599 183h1v28h-1zM598 185h3v15h-3z" fill="#000"/>
<path d="M19 218h1v2h-1zM27 211h1v7h-1zM31 208h1v2h-1zM39 222h1v5h-1zM43 211h1v10h-1zM51 223h1v3h-1zM79 241h1v13h-1zM95 278h1v2h-1zM103 280h1v2h-1zM107 270h1v10h-1zM111 244h1v24h-1zM119 246h1v5h-1zM123 240h1v4h-1zM127 235h1v4h-1zM135 244h1v4h-1zM139 234h1v5h-1zM143 223h1v9h-1zM151 223h1v2h-1zM171 193h1v36h-1zM175 164h1v27h-1zM195 170h1v20h-1zM203 151h1v20h-1zM207 149h1v1h-1zM211 126h1v22h-1zM219 121h1v5h-1zM223 116h1v3h-1zM235 149h1v10h-1zM239 121h1v27h-1zM243 108h1v11h-1zM247 88h1v18h-1zM251 77h1v9h-1zM259 69h1v9h-1zM263 64h1v4h-1zM283 79h1v3h-1zM295 68h1v14h-1zM299 57h1v9h-1zM303 46h1v8h-1zM327 89h1v1h-1zM335 88h1v12h-1zM339 67h1v21h-1zM347 64h1v2h-1zM355 40h1v6h-1zM363 34h1v8h-1zM367 32h1v1h-1zM379 34h1v6h-1zM383 31h1v2h-1zM391 48h1v3h-1zM399 45h1v6h-1zM403 37h1v7h-1zM407 32h1v3h-1zM411 29h1v1h-1zM419 41h1v3h-1zM423 35h1v7h-1zM427 30h1v4h-1zM431 29h1v1h-1zM443 28h1v2h-1zM475 67h1v11h-1zM479 60h1v5h-1zM483 49h1v10h-1zM487 44h1v3h-1zM495 42h1v8h-1zM511 46h1v22h-1zM539 151h1v13h-1zM543 146h1v3h-1zM555 161h1v12h-1zM567 210h1v8h-1zM571 202h1v6h-1zM575 195h1v4h-1zM583 203h1v14h-1zM591 190h1v17h-1zM595 186h1v3h-1z" fill="#fff"/>
<path d="M3 372h2v19h-2zM5 372h4v24h-4zM9 372h4v29h-4zM13 372h4v33h-4zM17 372h4v36h-4zM21 372h4v37h-4zM25 372h4v36h-4zM29 372h4v36h-4zM33 372h4v37h-4zM37 372h4v38h-4zM41 372h4v36h-4zM45 372h4v36h-4zM49 372h4v36h-4zM53 372h4v36h-4zM57 372h4v36h-4zM61 372h4v36h-4zM65 372h4v38h-4zM69 372h4v40h-4zM73 372h4v38h-4zM77 372h4v36h-4zM81 372h4v36h-4zM85 372h4v40h-4zM89 372h4v42h-4zM93 372h4v45h-4zM97 372h4v46h-4zM101 372h4v45h-4zM105 372h4v43h-4zM109 372h4v38h-4zM113 372h4v34h-4zM117 372h4v30h-4zM121 372h4v26h-4zM125 372h4v21h-4zM129 372h4v20h-4zM133 372h4v16h-4zM137 372h4v14h-4zM141 372h4v10h-4zM145 372h4v7h-4zM149 372h4v4h-4zM153 372h4v2h-4zM157 372h4v1h-4zM161 372h4v1h-4zM165 371h4v1h-4zM169 365h4v7h-4zM173 356h4v16h-4zM177 350h4v22h-4zM181 346h4v26h-4zM185 346h4v26h-4zM189 346h4v26h-4zM193 344h4v28h-4zM197 342h4v30h-4zM201 338h4v34h-4zM205 335h4v37h-4zM209 330h4v42h-4zM213 326h4v46h-4zM217 323h4v49h-4zM221 321h4v51h-4zM225 321h4v51h-4zM229 326h4v46h-4zM233 328h4v44h-4zM237 327h4v45h-4zM241 326h4v46h-4zM245 322h4v50h-4zM249 318h4v54h-4zM253 315h4v57h-4zM257 312h4v60h-4zM261 310h4v62h-4zM265 310h4v62h-4zM269 312h4v60h-4zM273 312h4v60h-4zM277 317h4v55h-4zM281 320h4v52h-4zM285 322h4v50h-4zM289 325h4v47h-4zM293 326h4v46h-4zM297 325h4v47h-4zM301 324h4v48h-4zM305 325h4v47h-4zM309 328h4v44h-4zM313 333h4v39h-4zM317 337h4v35h-4zM321 342h4v30h-4zM325 347h4v25h-4zM329 352h4v20h-4zM333 354h4v18h-4zM337 353h4v19h-4zM341 352h4v20h-4zM345 351h4v21h-4zM349 350h4v22h-4zM353 347h4v25h-4zM357 344h4v28h-4zM361 342h4v30h-4zM365 340h4v32h-4zM369 339h4v33h-4zM373 341h4v31h-4zM377 341h4v31h-4zM381 340h4v32h-4zM385 343h4v29h-4zM389 346h4v26h-4zM393 349h4v23h-4zM397 351h4v21h-4zM401 351h4v21h-4zM405 350h4v22h-4zM409 350h4v22h-4zM413 351h4v21h-4zM417 353h4v19h-4zM421 354h4v18h-4zM425 354h4v18h-4zM429 354h4v18h-4zM433 354h4v18h-4zM437 354h4v18h-4zM441 355h4v17h-4zM445 359h4v13h-4zM449 362h4v10h-4zM453 364h4v8h-4zM457 367h4v5h-4zM461 369h4v3h-4zM465 371h4v1h-4zM469 372h4v4h-4zM473 372h4v6h-4zM477 372h4v6h-4zM481 372h4v4h-4zM485 372h4v2h-4zM489 372h4v1h-4zM497 372h4v1h-4zM501 372h4v2h-4zM505 372h4v3h-4zM509 372h4v4h-4zM513 372h4v5h-4zM517 372h4v13h-4zM521 372h4v20h-4zM525 372h4v28h-4zM529 372h4v38h-4zM533 372h4v46h-4zM537 372h4v49h-4zM541 372h4v51h-4zM545 372h4v52h-4zM549 372h4v56h-4zM553 372h4v62h-4zM557 372h4v68h-4zM561 372h4v71h-4zM565 372h4v72h-4zM569 372h4v70h-4zM573 372h4v72h-4zM577 372h4v71h-4zM581 372h4v70h-4zM585 372h4v66h-4zM589 372h4v63h-4zM593 372h4v60h-4zM597 372h4v56h-4z" fill="#c0c0c0"/>
<path d="M283 313h3v2h-3zM282 313h1v3h-1zM286 313h1v3h-1zM276 314h6v2h-6zM287 314h3v2h-3zM275 314h1v3h-1zM290 314h1v3h-1zM274 315h1v2h-1zM291 315h3v2h-3zM273 315h1v3h-1zM294 315h1v3h-1zM272 316h1v2h-1zM295 316h2v2h-2zM271 316h1v3h-1zM297 316h1v3h-1zM270 317h1v2h-1zM298 317h1v2h-1zM269 317h1v3h-1zM299 317h1v3h-1zM268 318h1v2h-1zM300 318h2v2h-2zM267 318h1v3h-1zM302 318h1v3h-1zM303 319h2v2h-2zM266 319h1v3h-1zM305 319h1v3h-1zM265 320h1v2h-1zM306 320h1v2h-1zM264 320h1v3h-1zM307 320h1v3h-1zM263 321h1v2h-1zM308 321h2v2h-2zM262 321h1v3h-1zM310 321h1v3h-1zM259 322h3v2h-3zM311 322h2v2h-2zM258 322h1v3h-1zM313 322h1v3h-1zM255 323h3v2h-3zM314 323h1v2h-1zM254 323h1v3h-1zM315 323h1v3h-1zM251 324h3v2h-3zM316 324h1v2h-1zM250 324h1v3h-1zM317 324h1v3h-1zM247 325h3v2h-3zM318 325h1v2h-1zM246 325h1v3h-1zM319 325h1v3h-1zM243 326h3v2h-3zM320 326h1v2h-1zM242 326h1v3h-1zM321 326h1v3h-1zM239 327h3v2h-3zM322 327h1v2h-1zM238 327h1v3h-1zM323 327h1v3h-1zM232 328h6v2h-6zM231 328h1v3h-1zM324 328h1v3h-1zM325 329h1v2h-1zM230 329h1v3h-1zM326 329h1v3h-1zM229 330h1v2h-1zM228 330h1v3h-1zM327 330h1v3h-1zM227 331h1v3h-1zM328 331h1v3h-1zM329 332h1v2h-1zM226 332h1v3h-1zM330 332h1v3h-1zM225 333h1v2h-1zM224 333h1v3h-1zM331 333h1v3h-1zM223 334h1v3h-1zM332 334h1v3h-1zM222 335h1v2h-1zM333 335h1v2h-1zM221 335h1v3h-1zM334 335h1v3h-1zM220 336h1v2h-1zM219 336h1v3h-1zM335 336h1v3h-1zM218 337h1v3h-1zM336 337h1v3h-1zM217 338h1v2h-1zM337 338h1v2h-1zM216 338h1v3h-1zM338 338h1v3h-1zM215 339h1v3h-1zM339 339h1v3h-1zM214 340h1v3h-1zM340 340h1v3h-1zM213 341h1v2h-1zM341 341h1v2h-1zM387 341h11v2h-11zM212 341h1v3h-1zM342 341h1v3h-1zM386 341h1v3h-1zM398 341h1v3h-1zM383 342h3v2h-3zM399 342h2v2h-2zM211 342h1v3h-1zM343 342h1v3h-1zM382 342h1v3h-1zM401 342h1v3h-1zM210 343h1v2h-1zM379 343h3v2h-3zM402 343h1v2h-1zM209 343h1v3h-1zM344 343h1v3h-1zM378 343h1v3h-1zM403 343h1v3h-1zM208 344h1v2h-1zM345 344h1v2h-1zM376 344h2v2h-2zM404 344h2v2h-2zM207 344h1v3h-1zM346 344h1v3h-1zM375 344h1v3h-1zM406 344h1v3h-1zM374 345h1v2h-1zM407 345h3v2h-3zM206 345h1v3h-1zM347 345h1v3h-1zM373 345h1v3h-1zM410 345h1v3h-1zM205 346h1v2h-1zM348 346h2v2h-2zM371 346h2v2h-2zM411 346h3v2h-3zM204 346h1v3h-1zM350 346h1v3h-1zM370 346h1v3h-1zM414 346h1v3h-1zM351 347h2v2h-2zM368 347h2v2h-2zM415 347h2v2h-2zM203 347h1v3h-1zM353 347h1v3h-1zM367 347h1v3h-1zM417 347h1v3h-1zM354 348h1v2h-1zM366 348h1v2h-1zM418 348h1v2h-1zM202 348h1v3h-1zM355 348h1v3h-1zM365 348h1v3h-1zM419 348h1v3h-1zM356 349h9v2h-9zM420 349h2v2h-2zM201 349h1v3h-1zM422 349h1v3h-1zM423 350h3v2h-3zM200 350h1v3h-1zM426 350h1v3h-1zM427 351h11v2h-11zM199 351h1v3h-1zM438 351h1v3h-1zM439 352h7v2h-7zM198 352h1v3h-1zM446 352h1v3h-1zM197 353h1v2h-1zM447 353h3v2h-3zM196 353h1v3h-1zM450 353h1v3h-1zM451 354h3v2h-3zM195 354h1v3h-1zM454 354h1v3h-1zM455 355h2v2h-2zM194 355h1v3h-1zM457 355h1v3h-1zM193 356h1v2h-1zM458 356h1v2h-1zM192 356h1v3h-1zM459 356h1v3h-1zM460 357h1v2h-1zM191 357h1v3h-1zM461 357h1v3h-1zM462 358h1v2h-1zM190 358h1v3h-1zM463 358h1v3h-1zM189 359h1v2h-1zM464 359h1v2h-1zM188 359h1v3h-1zM465 359h1v3h-1zM466 360h1v2h-1zM187 360h1v3h-1zM467 360h1v3h-1zM468 361h1v2h-1zM186 361h1v3h-1zM469 361h1v3h-1zM185 362h1v2h-1zM470 362h1v2h-1zM184 362h1v3h-1zM471 362h1v3h-1zM183 363h1v3h-1zM472 363h1v3h-1zM473 364h1v2h-1zM182 364h1v3h-1zM474 364h1v3h-1zM181 365h1v3h-1zM475 365h1v3h-1zM476 366h1v2h-1zM180 366h1v3h-1zM477 366h1v3h-1zM478 367h1v2h-1zM179 367h1v3h-1zM479 367h1v3h-1zM480 368h1v2h-1zM178 368h1v3h-1zM481 368h1v3h-1zM482 369h1v2h-1zM177 369h1v3h-1zM483 369h1v3h-1zM484 370h1v2h-1zM176 370h1v3h-1zM485 370h1v3h-1zM486 371h1v2h-1zM175 371h1v3h-1zM487 371h1v3h-1zM488 372h2v2h-2zM174 372h1v3h-1zM490 372h1v3h-1zM491 373h3v2h-3zM173 373h1v3h-1zM494 373h1v3h-1zM495 374h3v2h-3zM515 374h2v2h-2zM172 374h1v3h-1zM498 374h1v3h-1zM514 374h1v3h-1zM517 374h1v3h-1zM499 375h15v2h-15zM518 375h1v2h-1zM171 375h1v3h-1zM519 375h1v3h-1zM170 376h1v2h-1zM520 376h2v2h-2zM169 376h1v3h-1zM522 376h1v3h-1zM3 377h1v2h-1zM167 377h2v2h-2zM523 377h2v2h-2zM4 377h1v3h-1zM166 377h1v3h-1zM525 377h1v3h-1zM164 378h2v2h-2zM526 378h1v2h-1zM5 378h1v3h-1zM163 378h1v3h-1zM527 378h1v3h-1zM6 379h1v3h-1zM162 379h1v3h-1zM528 379h1v3h-1zM161 380h1v2h-1zM7 380h1v3h-1zM160 380h1v3h-1zM529 380h1v3h-1zM8 381h1v3h-1zM159 381h1v3h-1zM530 381h1v3h-1zM9 382h1v2h-1zM158 382h1v2h-1zM10 382h1v3h-1zM157 382h1v3h-1zM531 382h1v3h-1zM156 383h1v2h-1zM11 383h1v3h-1zM155 383h1v3h-1zM532 383h1v3h-1zM12 384h1v3h-1zM154 384h1v3h-1zM533 384h1v4h-1zM13 385h1v3h-1zM153 385h1v3h-1zM534 385h1v4h-1zM14 386h1v3h-1zM152 386h1v3h-1zM15 387h1v3h-1zM151 387h1v3h-1zM535 387h1v3h-1zM16 388h1v3h-1zM150 388h1v3h-1zM536 388h1v3h-1zM17 389h1v2h-1zM149 389h1v2h-1zM18 389h1v3h-1zM148 389h1v3h-1zM537 389h1v4h-1zM19 390h1v3h-1zM147 390h1v3h-1zM538 390h1v4h-1zM20 391h1v3h-1zM146 391h1v3h-1zM21 392h1v2h-1zM22 392h1v3h-1zM145 392h1v3h-1zM539 392h1v3h-1zM23 393h1v3h-1zM144 393h1v3h-1zM540 393h1v4h-1zM24 394h1v3h-1zM143 394h1v3h-1zM541 394h1v4h-1zM25 395h1v2h-1zM26 395h1v3h-1zM142 395h1v3h-1zM27 396h1v3h-1zM141 396h1v3h-1zM542 396h1v4h-1zM28 397h1v3h-1zM140 397h1v3h-1zM543 397h1v4h-1zM29 398h1v2h-1zM30 398h1v3h-1zM139 398h1v3h-1zM31 399h1v3h-1zM138 399h1v3h-1zM544 399h1v3h-1zM32 400h1v2h-1zM33 400h1v3h-1zM137 400h1v3h-1zM545 400h1v4h-1zM34 401h1v2h-1zM35 401h1v3h-1zM136 401h1v3h-1zM546 401h1v4h-1zM36 402h1v2h-1zM37 402h1v3h-1zM135 402h1v3h-1zM38 403h1v2h-1zM134 403h1v2h-1zM39 403h1v3h-1zM133 403h1v3h-1zM547 403h1v3h-1zM40 404h1v2h-1zM132 404h1v2h-1zM41 404h1v3h-1zM131 404h1v3h-1zM548 404h1v3h-1zM42 405h1v2h-1zM43 405h1v3h-1zM130 405h1v3h-1zM549 405h1v4h-1zM44 406h46v2h-46zM129 406h1v2h-1zM90 406h1v3h-1zM128 406h1v3h-1zM550 406h1v4h-1zM91 407h2v2h-2zM93 407h1v3h-1zM127 407h1v3h-1zM94 408h1v2h-1zM126 408h1v2h-1zM95 408h1v3h-1zM125 408h1v3h-1zM551 408h1v3h-1zM96 409h1v2h-1zM124 409h1v2h-1zM97 409h1v3h-1zM123 409h1v3h-1zM552 409h1v3h-1zM98 410h1v2h-1zM122 410h1v2h-1zM99 410h1v3h-1zM121 410h1v3h-1zM553 410h1v4h-1zM100 411h21v2h-21zM554 411h1v4h-1zM555 413h1v3h-1zM556 414h1v3h-1zM557 415h1v4h-1zM558 416h1v4h-1zM559 418h1v3h-1zM560 419h1v3h-1zM561 420h1v4h-1zM562 421h1v4h-1zM563 423h1v3h-1zM564 424h1v3h-1zM565 425h1v2h-1zM566 425h1v3h-1zM567 426h1v3h-1zM568 427h1v3h-1zM569 428h1v2h-1zM570 428h1v3h-1zM571 429h1v3h-1zM572 430h1v3h-1zM573 431h1v2h-1zM574 431h1v3h-1zM575 432h1v3h-1zM576 433h1v2h-1zM577 433h1v3h-1zM578 434h1v2h-1zM579 434h1v3h-1zM580 435h1v2h-1zM581 435h1v3h-1zM582 436h1v2h-1zM583 436h1v3h-1zM584 437h2v2h-2zM586 437h1v3h-1zM587 438h3v2h-3zM590 438h1v3h-1zM591 439h10v2h-10z" fill="#ff0000"/>
<path d="M155 460h1v1h-1zM156 461h2v1h-2zM219 462h1v1h-1zM151 463h1v1h-1zM217 463h2v1h-2zM223 463h1v1h-1zM224 464h1v1h-1zM150 464h1v2h-1zM160 465h1v1h-1zM225 465h1v1h-1zM260 465h3v1h-3zM266 465h2v1h-2zM161 466h1v1h-1zM214 466h1v1h-1zM255 466h2v1h-2zM268 466h1v1h-1zM162 467h1v1h-1zM181 467h1v1h-1zM213 467h1v1h-1zM254 467h1v1h-1zM372 467h2v1h-2zM182 468h2v1h-2zM212 468h1v1h-1zM368 468h1v1h-1zM374 468h1v1h-1zM367 468h1v2h-1zM148 469h1v1h-1zM178 469h1v1h-1zM228 469h1v3h-1zM147 470h1v2h-1zM177 470h1v2h-1zM271 470h1v2h-1zM164 471h1v2h-1zM252 471h1v2h-1zM272 472h1v1h-1zM377 472h1v1h-1zM210 472h1v2h-1zM185 472h1v3h-1zM165 473h1v1h-1zM251 473h1v1h-1zM365 473h1v1h-1zM378 473h1v1h-1zM209 474h1v1h-1zM379 474h1v1h-1zM364 474h1v2h-1zM145 475h1v1h-1zM174 475h1v1h-1zM230 475h1v2h-1zM133 476h3v1h-3zM144 476h1v2h-1zM173 476h1v2h-1zM274 476h1v2h-1zM167 477h2v1h-2zM231 477h1v1h-1zM250 477h1v3h-1zM130 478h1v1h-1zM169 478h1v1h-1zM208 478h1v1h-1zM275 478h1v1h-1zM383 478h2v1h-2zM187 478h1v2h-1zM129 479h1v1h-1zM385 479h1v1h-1zM207 479h1v2h-1zM362 479h1v3h-1zM128 480h1v1h-1zM138 480h1v1h-1zM140 480h1v1h-1zM188 480h1v1h-1zM139 481h1v1h-1zM232 481h1v3h-1zM277 482h1v2h-1zM389 482h1v2h-1zM249 483h1v1h-1zM127 484h1v1h-1zM206 484h1v1h-1zM278 484h1v1h-1zM390 484h1v1h-1zM248 484h1v2h-1zM189 484h1v3h-1zM126 485h1v2h-1zM205 485h1v2h-1zM361 485h1v2h-1zM360 487h1v1h-1zM440 487h2v1h-2zM233 487h1v2h-1zM442 488h1v1h-1zM281 488h1v2h-1zM392 488h1v2h-1zM234 489h1v1h-1zM436 489h1v1h-1zM247 489h1v3h-1zM204 490h1v1h-1zM282 490h1v1h-1zM393 490h1v1h-1zM435 490h1v2h-1zM125 490h1v3h-1zM191 490h1v3h-1zM444 491h1v1h-1zM203 491h1v2h-1zM359 491h1v3h-1zM286 492h1v1h-1zM445 492h1v2h-1zM287 493h1v1h-1zM235 493h1v3h-1zM288 494h1v1h-1zM394 494h1v2h-1zM246 495h1v2h-1zM433 495h1v2h-1zM124 496h1v1h-1zM395 496h1v1h-1zM193 496h1v2h-1zM201 496h1v2h-1zM245 497h1v1h-1zM432 497h1v1h-1zM123 497h1v2h-1zM358 497h1v2h-1zM447 497h1v2h-1zM194 498h1v1h-1zM200 498h1v1h-1zM292 498h1v1h-1zM305 498h2v1h-2zM293 499h1v1h-1zM304 499h1v1h-1zM357 499h1v1h-1zM448 499h1v1h-1zM236 499h1v2h-1zM294 500h1v1h-1zM309 500h1v2h-1zM396 500h1v3h-1zM196 501h3v1h-3zM237 501h1v1h-1zM300 501h1v1h-1zM431 501h1v1h-1zM415 501h1v2h-1zM244 501h1v3h-1zM298 502h2v1h-2zM310 502h1v1h-1zM419 502h1v2h-1zM430 502h1v2h-1zM122 502h1v3h-1zM414 503h1v1h-1zM356 503h1v3h-1zM449 503h1v3h-1zM420 504h1v1h-1zM238 505h1v3h-1zM311 506h1v1h-1zM397 506h1v1h-1zM243 507h1v1h-1zM413 507h1v1h-1zM428 507h1v1h-1zM312 507h1v2h-1zM398 507h1v2h-1zM241 508h2v1h-2zM502 508h1v1h-1zM412 508h1v2h-1zM422 508h1v2h-1zM427 508h1v2h-1zM121 508h1v3h-1zM355 509h1v1h-1zM501 509h1v1h-1zM506 509h1v1h-1zM450 509h1v3h-1zM423 510h1v1h-1zM500 510h1v1h-1zM507 510h2v1h-2zM354 510h1v2h-1zM399 512h1v2h-1zM313 512h1v3h-1zM511 513h1v1h-1zM410 513h1v3h-1zM400 514h1v1h-1zM497 514h1v1h-1zM512 514h1v2h-1zM120 514h1v3h-1zM496 515h1v1h-1zM353 515h1v2h-1zM451 515h1v3h-1zM495 516h1v1h-1zM352 517h1v1h-1zM314 518h1v1h-1zM401 518h1v2h-1zM514 519h1v1h-1zM315 519h1v2h-1zM408 519h1v3h-1zM402 520h1v1h-1zM515 520h1v2h-1zM119 520h1v3h-1zM493 520h1v3h-1zM351 521h1v3h-1zM452 521h1v3h-1zM403 524h3v1h-3zM316 524h1v3h-1zM516 525h1v1h-1zM517 526h1v2h-1zM118 526h1v3h-1zM491 526h1v3h-1zM350 527h1v1h-1zM453 527h1v3h-1zM349 528h1v2h-1zM317 530h1v3h-1zM518 531h1v2h-1zM490 532h1v1h-1zM117 532h1v3h-1zM519 533h1v1h-1zM348 533h1v2h-1zM489 533h1v2h-1zM454 533h1v3h-1zM347 535h1v1h-1zM318 536h1v2h-1zM519 537h1v1h-1zM319 538h1v1h-1zM520 538h1v2h-1zM116 538h1v3h-1zM488 538h1v3h-1zM346 539h1v3h-1zM455 539h1v3h-1zM319 542h1v1h-1zM520 543h1v1h-1zM320 543h1v2h-1zM487 544h1v1h-1zM521 544h1v2h-1zM115 544h1v3h-1zM456 545h1v1h-1zM486 545h1v2h-1zM345 545h1v3h-1zM457 546h1v2h-1zM321 548h1v3h-1zM521 549h1v2h-1zM114 550h1v3h-1zM485 550h1v3h-1zM522 551h1v1h-1zM344 551h1v2h-1zM458 551h1v3h-1zM343 553h1v1h-1zM322 554h1v1h-1zM599 554h1v1h-1zM323 555h1v2h-1zM522 555h1v2h-1zM484 556h1v1h-1zM113 556h1v3h-1zM343 557h1v1h-1zM523 557h1v1h-1zM460 557h1v2h-1zM483 557h1v2h-1zM342 558h1v2h-1zM598 558h1v2h-1zM461 559h1v1h-1zM3 559h1v2h-1zM324 560h1v1h-1zM597 560h1v1h-1zM4 561h1v1h-1zM325 561h1v2h-1zM523 561h1v2h-1zM112 562h1v1h-1zM464 562h2v1h-2zM482 562h1v2h-1zM38 563h2v1h-2zM62 563h3v1h-3zM466 563h1v1h-1zM524 563h1v1h-1zM111 563h1v2h-1zM341 563h1v3h-1zM40 564h1v1h-1zM481 564h1v1h-1zM596 564h1v3h-1zM34 565h1v1h-1zM58 565h1v1h-1zM67 565h1v1h-1zM5 565h1v3h-1zM57 566h1v1h-1zM89 566h2v1h-2zM469 566h1v1h-1zM33 566h1v2h-1zM68 566h1v2h-1zM327 566h1v3h-1zM44 567h2v1h-2zM56 567h1v1h-1zM88 567h1v1h-1zM94 567h1v1h-1zM470 567h1v1h-1zM524 567h1v2h-1zM46 568h1v1h-1zM50 568h3v1h-3zM471 568h1v1h-1zM95 568h1v2h-1zM110 568h1v2h-1zM480 568h1v3h-1zM525 569h1v1h-1zM340 569h1v2h-1zM86 570h1v1h-1zM109 570h1v1h-1zM594 570h1v1h-1zM6 571h1v1h-1zM30 571h1v1h-1zM70 571h1v1h-1zM339 571h1v1h-1zM593 571h1v1h-1zM85 571h1v2h-1zM475 572h3v1h-3zM592 572h1v1h-1zM7 572h1v2h-1zM29 572h1v2h-1zM71 572h1v2h-1zM329 572h1v2h-1zM97 573h1v1h-1zM525 573h1v1h-1zM108 574h1v1h-1zM330 574h1v1h-1zM98 574h1v2h-1zM526 574h1v2h-1zM338 575h1v1h-1zM583 575h1v1h-1zM107 575h1v2h-1zM83 576h1v1h-1zM582 576h1v1h-1zM589 576h1v1h-1zM337 576h1v2h-1zM27 577h1v1h-1zM101 577h1v1h-1zM581 577h1v1h-1zM588 577h1v1h-1zM73 577h1v2h-1zM82 577h1v2h-1zM9 577h1v3h-1zM102 578h2v1h-2zM332 578h2v1h-2zM587 578h1v1h-1zM26 578h1v2h-1zM74 579h1v1h-1zM334 579h1v1h-1zM526 579h1v1h-1zM527 580h1v2h-1zM77 581h1v1h-1zM554 581h3v1h-3zM578 581h1v2h-1zM78 582h2v1h-2zM560 582h2v1h-2zM11 583h1v1h-1zM24 583h1v1h-1zM549 583h2v1h-2zM562 583h1v1h-1zM577 583h1v1h-1zM12 584h1v1h-1zM23 584h1v1h-1zM548 584h1v1h-1zM13 585h1v1h-1zM22 585h1v1h-1zM528 585h1v2h-1zM566 586h1v1h-1zM529 587h1v1h-1zM545 587h1v1h-1zM567 587h2v1h-2zM574 587h1v1h-1zM16 588h3v1h-3zM572 588h2v1h-2zM544 588h1v2h-1zM530 591h1v3h-1zM541 593h1v1h-1zM540 594h1v1h-1zM539 595h1v1h-1zM533 596h1v1h-1zM534 597h1v1h-1zM535 598h1v1h-1z" fill="#ff0000"/>
<path d="M151 458h1v1h-1zM150 459h1v1h-1zM152 459h1v1h-1zM148 460h2v1h-2zM153 460h1v1h-1zM215 460h1v1h-1zM154 461h1v1h-1zM213 461h2v1h-2zM216 461h2v1h-2zM147 461h1v2h-1zM155 462h1v1h-1zM211 462h2v1h-2zM218 462h1v1h-1zM219 463h2v1h-2zM251 463h1v1h-1zM262 463h2v1h-2zM146 463h1v2h-1zM156 463h1v2h-1zM175 463h1v2h-1zM210 463h1v2h-1zM176 464h2v1h-2zM221 464h2v1h-2zM250 464h1v1h-1zM252 464h1v1h-1zM259 464h3v1h-3zM264 464h1v2h-1zM178 465h1v1h-1zM253 465h1v1h-1zM258 465h1v1h-1zM366 465h2v1h-2zM145 465h1v2h-1zM157 465h1v2h-1zM174 465h1v2h-1zM209 465h1v2h-1zM223 465h1v2h-1zM249 465h1v2h-1zM254 466h1v1h-1zM256 466h2v1h-2zM265 466h1v1h-1zM364 466h2v1h-2zM368 466h2v1h-2zM179 466h1v2h-1zM363 466h1v2h-1zM248 467h1v1h-1zM255 467h1v1h-1zM370 467h1v1h-1zM144 467h1v2h-1zM158 467h1v2h-1zM208 467h1v2h-1zM224 467h1v2h-1zM266 467h1v2h-1zM173 467h1v3h-1zM180 468h1v2h-1zM362 468h1v2h-1zM371 468h1v2h-1zM247 468h1v3h-1zM159 469h1v2h-1zM207 469h1v2h-1zM225 469h1v2h-1zM267 469h1v2h-1zM143 469h1v3h-1zM172 470h1v2h-1zM361 470h1v2h-1zM372 470h1v2h-1zM181 470h1v3h-1zM127 471h1v2h-1zM160 471h1v2h-1zM206 471h1v2h-1zM226 471h1v2h-1zM268 471h1v2h-1zM246 471h1v5h-1zM128 472h1v2h-1zM360 472h1v2h-1zM373 472h1v2h-1zM142 472h1v3h-1zM171 472h1v3h-1zM161 473h1v2h-1zM182 473h1v2h-1zM205 473h1v2h-1zM269 473h1v2h-1zM126 473h1v3h-1zM227 473h1v3h-1zM129 474h1v1h-1zM374 474h1v2h-1zM359 474h1v3h-1zM130 475h1v2h-1zM162 475h1v2h-1zM204 475h1v2h-1zM270 475h1v2h-1zM170 475h1v3h-1zM141 475h1v4h-1zM183 475h1v4h-1zM375 476h1v1h-1zM125 476h1v2h-1zM245 476h1v5h-1zM228 476h1v6h-1zM131 477h1v1h-1zM376 477h2v1h-2zM163 477h1v2h-1zM203 477h1v3h-1zM271 477h1v3h-1zM358 477h1v4h-1zM132 478h1v1h-1zM378 478h1v1h-1zM382 478h2v1h-2zM124 478h1v3h-1zM169 478h1v3h-1zM379 479h3v1h-3zM133 479h1v2h-1zM164 479h1v2h-1zM384 479h1v2h-1zM140 479h1v3h-1zM184 479h1v4h-1zM272 480h1v2h-1zM202 480h1v4h-1zM134 481h1v1h-1zM385 481h1v1h-1zM165 481h1v2h-1zM123 481h1v3h-1zM168 481h1v3h-1zM357 481h1v4h-1zM244 481h1v5h-1zM135 482h3v1h-3zM139 482h1v2h-1zM386 482h1v2h-1zM273 482h1v3h-1zM229 482h1v5h-1zM138 483h1v1h-1zM166 483h1v2h-1zM185 483h1v4h-1zM167 484h1v2h-1zM387 484h1v2h-1zM122 484h1v3h-1zM201 484h1v3h-1zM434 485h2v1h-2zM274 485h1v2h-1zM356 485h1v4h-1zM432 486h2v1h-2zM388 486h1v2h-1zM431 486h1v2h-1zM436 486h1v2h-1zM243 486h1v6h-1zM275 487h1v2h-1zM121 487h1v4h-1zM186 487h1v4h-1zM200 487h1v4h-1zM230 487h1v6h-1zM437 488h1v1h-1zM389 488h1v3h-1zM430 488h1v3h-1zM276 489h2v1h-2zM438 489h1v2h-1zM443 489h1v3h-1zM355 489h1v5h-1zM278 490h1v1h-1zM441 490h2v1h-2zM279 491h2v1h-2zM439 491h2v1h-2zM303 491h1v2h-1zM390 491h1v2h-1zM429 491h1v2h-1zM120 491h1v3h-1zM187 491h1v3h-1zM199 491h1v3h-1zM281 492h2v1h-2zM411 492h1v3h-1zM444 492h1v5h-1zM242 492h1v7h-1zM283 493h1v1h-1zM302 493h1v2h-1zM304 493h1v2h-1zM428 493h1v3h-1zM391 493h1v4h-1zM231 493h1v5h-1zM284 494h2v1h-2zM412 494h1v2h-1zM188 494h1v3h-1zM198 494h1v4h-1zM119 494h1v5h-1zM354 494h1v6h-1zM286 495h1v1h-1zM305 495h1v2h-1zM301 495h1v3h-1zM410 495h1v4h-1zM287 496h1v1h-1zM413 496h1v3h-1zM427 496h1v4h-1zM288 497h1v1h-1zM306 497h1v2h-1zM189 497h1v4h-1zM392 497h1v5h-1zM445 497h1v5h-1zM289 498h1v2h-1zM300 498h1v2h-1zM197 498h1v3h-1zM232 498h1v6h-1zM414 499h1v2h-1zM307 499h1v4h-1zM409 499h1v4h-1zM118 499h1v6h-1zM241 499h1v6h-1zM290 500h1v1h-1zM299 500h1v2h-1zM353 500h1v5h-1zM426 500h1v5h-1zM291 501h1v1h-1zM190 501h1v3h-1zM415 501h1v3h-1zM196 501h1v4h-1zM292 502h1v1h-1zM298 502h1v1h-1zM503 502h1v3h-1zM393 502h1v5h-1zM446 502h1v5h-1zM293 503h1v1h-1zM297 503h1v1h-1zM502 503h1v2h-1zM408 503h1v4h-1zM308 503h1v5h-1zM294 504h1v1h-1zM296 504h1v1h-1zM191 504h1v2h-1zM416 504h1v3h-1zM233 504h1v5h-1zM192 505h2v1h-2zM295 505h1v1h-1zM501 505h1v1h-1zM195 505h1v2h-1zM425 505h1v4h-1zM504 505h1v4h-1zM352 505h1v6h-1zM117 505h1v7h-1zM240 505h1v7h-1zM194 506h1v1h-1zM500 506h1v2h-1zM417 507h1v2h-1zM394 507h1v5h-1zM407 507h1v5h-1zM447 507h1v7h-1zM499 508h1v1h-1zM309 508h1v6h-1zM497 509h2v1h-2zM418 509h1v3h-1zM424 509h1v5h-1zM505 509h1v5h-1zM234 509h1v6h-1zM495 510h2v1h-2zM494 511h1v1h-1zM351 511h1v3h-1zM419 512h1v2h-1zM493 512h1v2h-1zM239 512h1v4h-1zM395 512h1v4h-1zM116 512h1v6h-1zM406 512h1v6h-1zM511 513h1v3h-1zM420 514h2v1h-2zM492 514h1v1h-1zM350 514h1v2h-1zM510 514h1v2h-1zM423 514h1v3h-1zM506 514h1v4h-1zM310 514h1v5h-1zM448 514h1v8h-1zM422 515h1v1h-1zM491 515h1v2h-1zM235 515h1v3h-1zM237 516h2v1h-2zM349 516h1v2h-1zM509 516h1v2h-1zM396 516h1v3h-1zM512 516h1v4h-1zM236 517h1v1h-1zM490 517h1v2h-1zM348 518h1v2h-1zM508 518h1v2h-1zM507 518h1v3h-1zM405 518h1v6h-1zM115 518h1v7h-1zM489 519h1v2h-1zM397 519h1v4h-1zM311 519h1v5h-1zM347 520h1v3h-1zM513 520h1v4h-1zM488 521h1v2h-1zM449 522h1v9h-1zM346 523h1v3h-1zM398 523h1v3h-1zM487 523h1v4h-1zM514 524h1v4h-1zM312 524h1v6h-1zM404 524h1v6h-1zM114 525h1v7h-1zM399 526h1v2h-1zM345 526h1v3h-1zM486 527h1v4h-1zM400 528h1v1h-1zM515 528h1v6h-1zM401 529h1v2h-1zM344 529h1v3h-1zM403 530h1v3h-1zM313 530h1v5h-1zM402 531h1v1h-1zM485 531h1v4h-1zM450 531h1v8h-1zM343 532h1v4h-1zM113 532h1v8h-1zM516 534h1v8h-1zM484 535h1v4h-1zM314 535h1v6h-1zM342 536h1v5h-1zM483 539h1v5h-1zM451 539h1v7h-1zM112 540h1v7h-1zM315 541h1v4h-1zM341 541h1v6h-1zM599 542h1v2h-1zM517 542h1v7h-1zM598 544h1v3h-1zM482 544h1v6h-1zM316 545h1v4h-1zM452 546h1v5h-1zM597 547h1v3h-1zM340 547h1v5h-1zM111 547h1v6h-1zM317 549h1v3h-1zM518 549h1v8h-1zM596 550h1v3h-1zM481 550h1v6h-1zM453 551h1v6h-1zM318 552h1v4h-1zM339 552h1v5h-1zM595 553h1v3h-1zM110 553h1v5h-1zM319 556h1v3h-1zM594 556h1v3h-1zM480 556h1v6h-1zM87 557h1v2h-1zM454 557h1v5h-1zM338 557h1v6h-1zM519 557h1v7h-1zM31 558h1v2h-1zM59 558h1v2h-1zM109 558h1v4h-1zM60 559h1v1h-1zM32 559h1v2h-1zM86 559h1v2h-1zM320 559h1v2h-1zM593 559h1v2h-1zM88 559h1v4h-1zM61 560h1v1h-1zM30 560h1v3h-1zM58 560h1v3h-1zM33 561h1v1h-1zM62 561h1v1h-1zM85 561h1v2h-1zM321 561h1v3h-1zM592 561h1v3h-1zM459 562h5v1h-5zM34 562h1v2h-1zM63 562h1v2h-1zM455 562h1v3h-1zM479 562h1v4h-1zM108 562h1v5h-1zM457 563h2v1h-2zM464 563h1v1h-1zM29 563h1v2h-1zM57 563h1v2h-1zM84 563h1v2h-1zM89 563h1v3h-1zM337 563h1v6h-1zM35 564h1v1h-1zM456 564h1v1h-1zM465 564h1v1h-1zM64 564h1v2h-1zM322 564h1v2h-1zM591 564h1v4h-1zM520 564h1v7h-1zM36 565h1v1h-1zM466 565h1v1h-1zM28 565h1v3h-1zM56 565h1v3h-1zM83 565h1v3h-1zM37 566h1v1h-1zM51 566h1v1h-1zM65 566h1v2h-1zM467 566h1v2h-1zM478 566h1v2h-1zM323 566h1v3h-1zM90 566h1v4h-1zM38 567h1v1h-1zM49 567h2v1h-2zM52 567h2v1h-2zM107 567h1v3h-1zM39 568h3v1h-3zM46 568h3v1h-3zM54 568h1v1h-1zM55 568h1v2h-1zM66 568h1v2h-1zM82 568h1v2h-1zM27 568h1v3h-1zM468 568h1v3h-1zM477 568h1v3h-1zM590 568h1v4h-1zM42 569h4v1h-4zM324 569h1v2h-1zM336 569h1v6h-1zM91 570h1v2h-1zM106 570h1v2h-1zM67 570h1v3h-1zM81 570h1v3h-1zM26 571h1v2h-1zM325 571h1v2h-1zM469 571h1v2h-1zM476 571h1v2h-1zM521 571h1v8h-1zM92 572h1v1h-1zM3 572h1v2h-1zM105 572h1v2h-1zM589 572h1v5h-1zM25 573h1v2h-1zM80 573h1v2h-1zM93 573h1v2h-1zM326 573h1v2h-1zM475 573h1v2h-1zM583 573h1v2h-1zM470 573h1v3h-1zM68 573h1v4h-1zM582 574h1v1h-1zM104 574h1v2h-1zM4 574h1v4h-1zM94 575h1v1h-1zM474 575h1v1h-1zM580 575h2v1h-2zM24 575h1v2h-1zM584 575h1v2h-1zM79 575h1v3h-1zM327 575h1v3h-1zM335 575h1v5h-1zM95 576h1v1h-1zM103 576h1v1h-1zM472 576h2v1h-2zM576 576h4v1h-4zM471 576h1v2h-1zM575 576h1v2h-1zM23 577h1v2h-1zM96 577h1v2h-1zM102 577h1v2h-1zM69 577h1v3h-1zM585 577h1v3h-1zM588 577h1v4h-1zM78 578h1v2h-1zM5 578h1v3h-1zM328 578h1v3h-1zM574 578h1v3h-1zM22 579h1v2h-1zM97 579h1v2h-1zM101 579h1v2h-1zM522 579h1v7h-1zM547 580h1v1h-1zM334 580h1v2h-1zM586 580h1v2h-1zM77 580h1v3h-1zM70 580h1v4h-1zM21 581h1v1h-1zM546 581h1v1h-1zM548 581h1v1h-1zM555 581h2v1h-2zM98 581h1v2h-1zM100 581h1v2h-1zM329 581h1v2h-1zM573 581h1v3h-1zM587 581h1v3h-1zM6 581h1v4h-1zM545 582h1v1h-1zM549 582h1v1h-1zM554 582h1v1h-1zM557 582h2v1h-2zM20 582h1v2h-1zM333 582h1v2h-1zM99 583h1v1h-1zM544 583h1v1h-1zM550 583h1v1h-1zM552 583h2v1h-2zM559 583h1v1h-1zM76 583h1v2h-1zM330 583h1v3h-1zM19 584h1v1h-1zM543 584h1v1h-1zM551 584h1v1h-1zM560 584h2v1h-2zM71 584h1v2h-1zM332 584h1v2h-1zM572 584h1v3h-1zM18 585h1v1h-1zM72 585h2v1h-2zM562 585h1v1h-1zM7 585h1v2h-1zM75 585h1v2h-1zM542 585h1v2h-1zM17 586h1v1h-1zM74 586h1v1h-1zM563 586h1v1h-1zM331 586h1v2h-1zM523 586h1v5h-1zM8 587h1v1h-1zM16 587h1v1h-1zM541 587h1v1h-1zM564 587h1v2h-1zM571 587h1v2h-1zM9 588h1v1h-1zM15 588h1v1h-1zM540 588h1v2h-1zM10 589h1v1h-1zM13 589h2v1h-2zM570 589h1v1h-1zM565 589h1v2h-1zM11 590h2v1h-2zM539 590h1v1h-1zM569 590h1v2h-1zM524 591h1v2h-1zM538 591h1v2h-1zM566 591h1v2h-1zM568 592h1v1h-1zM537 593h1v1h-1zM567 593h1v1h-1zM525 593h1v2h-1zM536 594h1v2h-1zM526 595h1v2h-1zM535 596h1v1h-1zM534 597h1v1h-1zM527 597h1v2h-1zM528 598h2v1h-2zM532 598h2v1h-2zM530 599h2v1h-2z" fill="#20b2aa"/>
<line x1="2" y1="2.5" x2="670" y2="2.5" stroke="#000" stroke-width="1"/>
<line x1="2" y1="300.5" x2="670" y2="300.5" stroke="#000" stroke-width="1"/>
<line x1="2" y1="302.5" x2="670" y2="302.5" stroke="#000" stroke-width="1"/>
<line x1="2" y1="450.5" x2="670" y2="450.5" stroke="#000" stroke-width="1"/>
<line x1="2" y1="452.5" x2="670" y2="452.5" stroke="#000" stroke-width="1"/>
<line x1="2" y1="599.5" x2="670" y2="599.5" stroke="#000" stroke-width="1"/>
<line x1="2.5" y1="2" x2="2.5" y2="301" stroke="#000" stroke-width="1"/>
<line x1="669.5" y1="2" x2="669.5" y2="301" stroke="#000" stroke-width="1"/>
<line x1="2.5" y1="302" x2="2.5" y2="451" stroke="#000" stroke-width="1"/>
<line x1="669.5" y1="302" x2="669.5" y2="451" stroke="#000" stroke-width="1"/>
<line x1="2.5" y1="452" x2="2.5" y2="600" stroke="#000" stroke-width="1"/>
<line x1="669.5" y1="452" x2="669.5" y2="600" stroke="#000" stroke-width="1"/>
<line x1="670" y1="10.5" x2="672" y2="10.5" stroke="#000" stroke-width="1"/>
<line x1="670" y1="42.5" x2="672" y2="42.5" stroke="#000" stroke-width="1"/>
<line x1="670" y1="74.5" x2="672" y2="74.5" stroke="#000" stroke-width="1"/>
<line x1="670" y1="106.5" x2="672" y2="106.5" stroke="#000" stroke-width="1"/>
<line x1="670" y1="138.5" x2="672" y2="138.5" stroke="#000" stroke-width="1"/>
<line x1="670" y1="170.5" x2="672" y2="170.5" stroke="#000" stroke-width="1"/>
<line x1="670" y1="202.5" x2="672" y2="202.5" stroke="#000" stroke-width="1"/>
<line x1="670" y1="234.5" x2="672" y2="234.5" stroke="#000" stroke-width="1"/>
<line x1="670" y1="266.5" x2="672" y2="266.5" stroke="#000" stroke-width="1"/>
<line x1="670" y1="298.5" x2="672" y2="298.5" stroke="#000" stroke-width="1"/>
<line x1="670" y1="372.5" x2="671" y2="372.5" stroke="#000" stroke-width="1"/>
<line x1="670" y1="304.5" x2="671" y2="304.5" stroke="#000" stroke-width="1"/>
<line x1="670" y1="449.5" x2="671" y2="449.5" stroke="#000" stroke-width="1"/>
<line x1="670" y1="454.5" x2="671" y2="454.5" stroke="#000" stroke-width="1"/>
<line x1="670" y1="598.5" x2="671" y2="598.5" stroke="#000" stroke-width="1"/>
<line x1="3.5" y1="600" x2="3.5" y2="603" stroke="#000" stroke-width="1"/>
<line x1="67.5" y1="600" x2="67.5" y2="603" stroke="#000" stroke-width="1"/>
<line x1="131.5" y1="600" x2="131.5" y2="603" stroke="#000" stroke-width="1"/>
<line x1="195.5" y1="600" x2="195.5" y2="603" stroke="#000" stroke-width="1"/>
<line x1="259.5" y1="600" x2="259.5" y2="603" stroke="#000" stroke-width="1"/>
<line x1="323.5" y1="600" x2="323.5" y2="603" stroke="#000" stroke-width="1"/>
<line x1="387.5" y1="600" x2="387.5" y2="603" stroke="#000" stroke-width="1"/>
<line x1="451.5" y1="600" x2="451.5" y2="603" stroke="#000" stroke-width="1"/>
<line x1="515.5" y1="600" x2="515.5" y2="603" stroke="#000" stroke-width="1"/>
<line x1="579.5" y1="600" x2="579.5" y2="603" stroke="#000" stroke-width="1"/>
</g>
<rect x="6" y="5" width="202" height="11" fill="#fff"/>
<rect x="6" y="305" width="156" height="12" fill="#fff"/>
<rect x="6" y="456" width="129" height="12" fill="#fff"/>
<text x="7" y="14" fill="#000" stroke="#000" stroke-width="0.2" textLength="200" lengthAdjust="spacingAndGlyphs" xml:space="preserve">NZDUSD,H4  0.71549 0.71581 0.71122 0.71312</text>
<text x="7" y="315.5" fill="#000" stroke="#000" stroke-width="0.2" textLength="153" lengthAdjust="spacingAndGlyphs" xml:space="preserve">MACD(12,26,9) -0.005125 -0.006063</text>
<text x="7" y="466" fill="#000" stroke="#000" stroke-width="0.2" textLength="126" lengthAdjust="spacingAndGlyphs" xml:space="preserve">Stoch(13,3,3) 39.9308 30.8946</text>
<text y="595" fill="#000" stroke="#000" stroke-width="0.2"><tspan x="5.5" textLength="27.2" lengthAdjust="spacingAndGlyphs">FxPro</tspan> <tspan x="35.8" textLength="20.2" lengthAdjust="spacingAndGlyphs">MT4,</tspan> <tspan x="59.7" textLength="9.3" lengthAdjust="spacingAndGlyphs">©</tspan> <tspan x="73.2" textLength="43.5" lengthAdjust="spacingAndGlyphs">2001-2009</tspan> <tspan x="120.3" textLength="51.5" lengthAdjust="spacingAndGlyphs">MetaQuotes</tspan> <tspan x="176.3" textLength="38.7" lengthAdjust="spacingAndGlyphs">Software</tspan> <tspan x="219.3" textLength="25.4" lengthAdjust="spacingAndGlyphs">Corp.</tspan></text>
<text x="2.2" y="612.6" fill="#000" stroke="#000" stroke-width="0.2" textLength="50" lengthAdjust="spacingAndGlyphs" xml:space="preserve">17 Dec 2009</text>
<text x="66.2" y="612.6" fill="#000" stroke="#000" stroke-width="0.2" textLength="53.4" lengthAdjust="spacingAndGlyphs" xml:space="preserve">21 Dec 20:00</text>
<text x="130.2" y="612.6" fill="#000" stroke="#000" stroke-width="0.2" textLength="53.4" lengthAdjust="spacingAndGlyphs" xml:space="preserve">24 Dec 12:00</text>
<text x="194.2" y="612.6" fill="#000" stroke="#000" stroke-width="0.2" textLength="53.4" lengthAdjust="spacingAndGlyphs" xml:space="preserve">30 Dec 08:00</text>
<text x="258.2" y="612.6" fill="#000" stroke="#000" stroke-width="0.2" textLength="47.4" lengthAdjust="spacingAndGlyphs" xml:space="preserve">5 Jan 04:00</text>
<text x="322.2" y="612.6" fill="#000" stroke="#000" stroke-width="0.2" textLength="46.7" lengthAdjust="spacingAndGlyphs" xml:space="preserve">7 Jan 20:00</text>
<text x="386.2" y="612.6" fill="#000" stroke="#000" stroke-width="0.2" textLength="51.7" lengthAdjust="spacingAndGlyphs" xml:space="preserve">12 Jan 12:00</text>
<text x="450.2" y="612.6" fill="#000" stroke="#000" stroke-width="0.2" textLength="51.7" lengthAdjust="spacingAndGlyphs" xml:space="preserve">15 Jan 04:00</text>
<text x="514.2" y="612.6" fill="#000" stroke="#000" stroke-width="0.2" textLength="51.7" lengthAdjust="spacingAndGlyphs" xml:space="preserve">19 Jan 20:00</text>
<text x="578.2" y="612.6" fill="#000" stroke="#000" stroke-width="0.2" textLength="51.7" lengthAdjust="spacingAndGlyphs" xml:space="preserve">22 Jan 12:00</text>
<text transform="translate(675,13) scale(0.882,1)" fill="#000" stroke="#000" stroke-width="0.2" xml:space="preserve">0.74535</text>
<text transform="translate(675,45) scale(0.882,1)" fill="#000" stroke="#000" stroke-width="0.2" xml:space="preserve">0.73990</text>
<text transform="translate(675,77) scale(0.882,1)" fill="#000" stroke="#000" stroke-width="0.2" xml:space="preserve">0.73445</text>
<text transform="translate(675,109) scale(0.882,1)" fill="#000" stroke="#000" stroke-width="0.2" xml:space="preserve">0.72895</text>
<text transform="translate(675,141) scale(0.882,1)" fill="#000" stroke="#000" stroke-width="0.2" xml:space="preserve">0.72345</text>
<text transform="translate(675,173) scale(0.882,1)" fill="#000" stroke="#000" stroke-width="0.2" xml:space="preserve">0.71805</text>
<text transform="translate(675,205) scale(0.882,1)" fill="#000" stroke="#000" stroke-width="0.2" xml:space="preserve">0.71260</text>
<text transform="translate(675,237) scale(0.882,1)" fill="#000" stroke="#000" stroke-width="0.2" xml:space="preserve">0.70710</text>
<text transform="translate(675,269) scale(0.882,1)" fill="#000" stroke="#000" stroke-width="0.2" xml:space="preserve">0.70170</text>
<text transform="translate(675,301) scale(0.882,1)" fill="#000" stroke="#000" stroke-width="0.2" xml:space="preserve">0.69630</text>
<rect x="672" y="15" width="35" height="11" fill="#008080" shape-rendering="crispEdges"/>
<text transform="translate(675,24) scale(0.882,1)" fill="#fff" stroke="#fff" stroke-width="0.2" xml:space="preserve">0.74335</text>
<rect x="672" y="39" width="35" height="11" fill="#008080" shape-rendering="crispEdges"/>
<text transform="translate(675,48) scale(0.882,1)" fill="#fff" stroke="#fff" stroke-width="0.2" xml:space="preserve">0.73927</text>
<rect x="672" y="72" width="35" height="11" fill="#008080" shape-rendering="crispEdges"/>
<text transform="translate(675,81) scale(0.882,1)" fill="#fff" stroke="#fff" stroke-width="0.2" xml:space="preserve">0.73367</text>
<rect x="672" y="101" width="35" height="11" fill="#008080" shape-rendering="crispEdges"/>
<text transform="translate(675,110) scale(0.882,1)" fill="#fff" stroke="#fff" stroke-width="0.2" xml:space="preserve">0.72875</text>
<rect x="672" y="138" width="35" height="11" fill="#008080" shape-rendering="crispEdges"/>
<text transform="translate(675,147) scale(0.882,1)" fill="#fff" stroke="#fff" stroke-width="0.2" xml:space="preserve">0.72247</text>
<rect x="672" y="170" width="35" height="11" fill="#008080" shape-rendering="crispEdges"/>
<text transform="translate(675,179) scale(0.882,1)" fill="#fff" stroke="#fff" stroke-width="0.2" xml:space="preserve">0.71704</text>
<rect x="672" y="216" width="35" height="11" fill="#008080" shape-rendering="crispEdges"/>
<text transform="translate(675,225) scale(0.882,1)" fill="#fff" stroke="#fff" stroke-width="0.2" xml:space="preserve">0.70924</text>
<rect x="672" y="242" width="35" height="11" fill="#008080" shape-rendering="crispEdges"/>
<text transform="translate(675,251) scale(0.882,1)" fill="#fff" stroke="#fff" stroke-width="0.2" xml:space="preserve">0.70480</text>
<rect x="672" y="280" width="35" height="11" fill="#008080" shape-rendering="crispEdges"/>
<text transform="translate(675,289) scale(0.882,1)" fill="#fff" stroke="#fff" stroke-width="0.2" xml:space="preserve">0.69832</text>
<rect x="672" y="193" width="35" height="11" fill="#000" shape-rendering="crispEdges"/>
<text transform="translate(675,202) scale(0.882,1)" fill="#fff" stroke="#fff" stroke-width="0.2" xml:space="preserve">0.71312</text>
<text transform="translate(673,312.7) scale(0.882,1)" fill="#000" stroke="#000" stroke-width="0.2" xml:space="preserve">0.006301</text>
<text transform="translate(673,375) scale(0.882,1)" fill="#000" stroke="#000" stroke-width="0.2" xml:space="preserve">0.00</text>
<text transform="translate(672.6,446.6) scale(0.882,1)" fill="#000" stroke="#000" stroke-width="0.2" xml:space="preserve">-0.00705</text>
<text transform="translate(673.7,462.5) scale(0.882,1)" fill="#000" stroke="#000" stroke-width="0.2" xml:space="preserve">100</text>
<text transform="translate(672,485.5) scale(0.882,1)" fill="#000" stroke="#000" stroke-width="0.2" xml:space="preserve">80</text>
<text transform="translate(672,572.5) scale(0.882,1)" fill="#000" stroke="#000" stroke-width="0.2" xml:space="preserve">20</text>
<text transform="translate(673,596.3) scale(0.882,1)" fill="#000" stroke="#000" stroke-width="0.2" xml:space="preserve">0</text>
</svg>
</body></html>
